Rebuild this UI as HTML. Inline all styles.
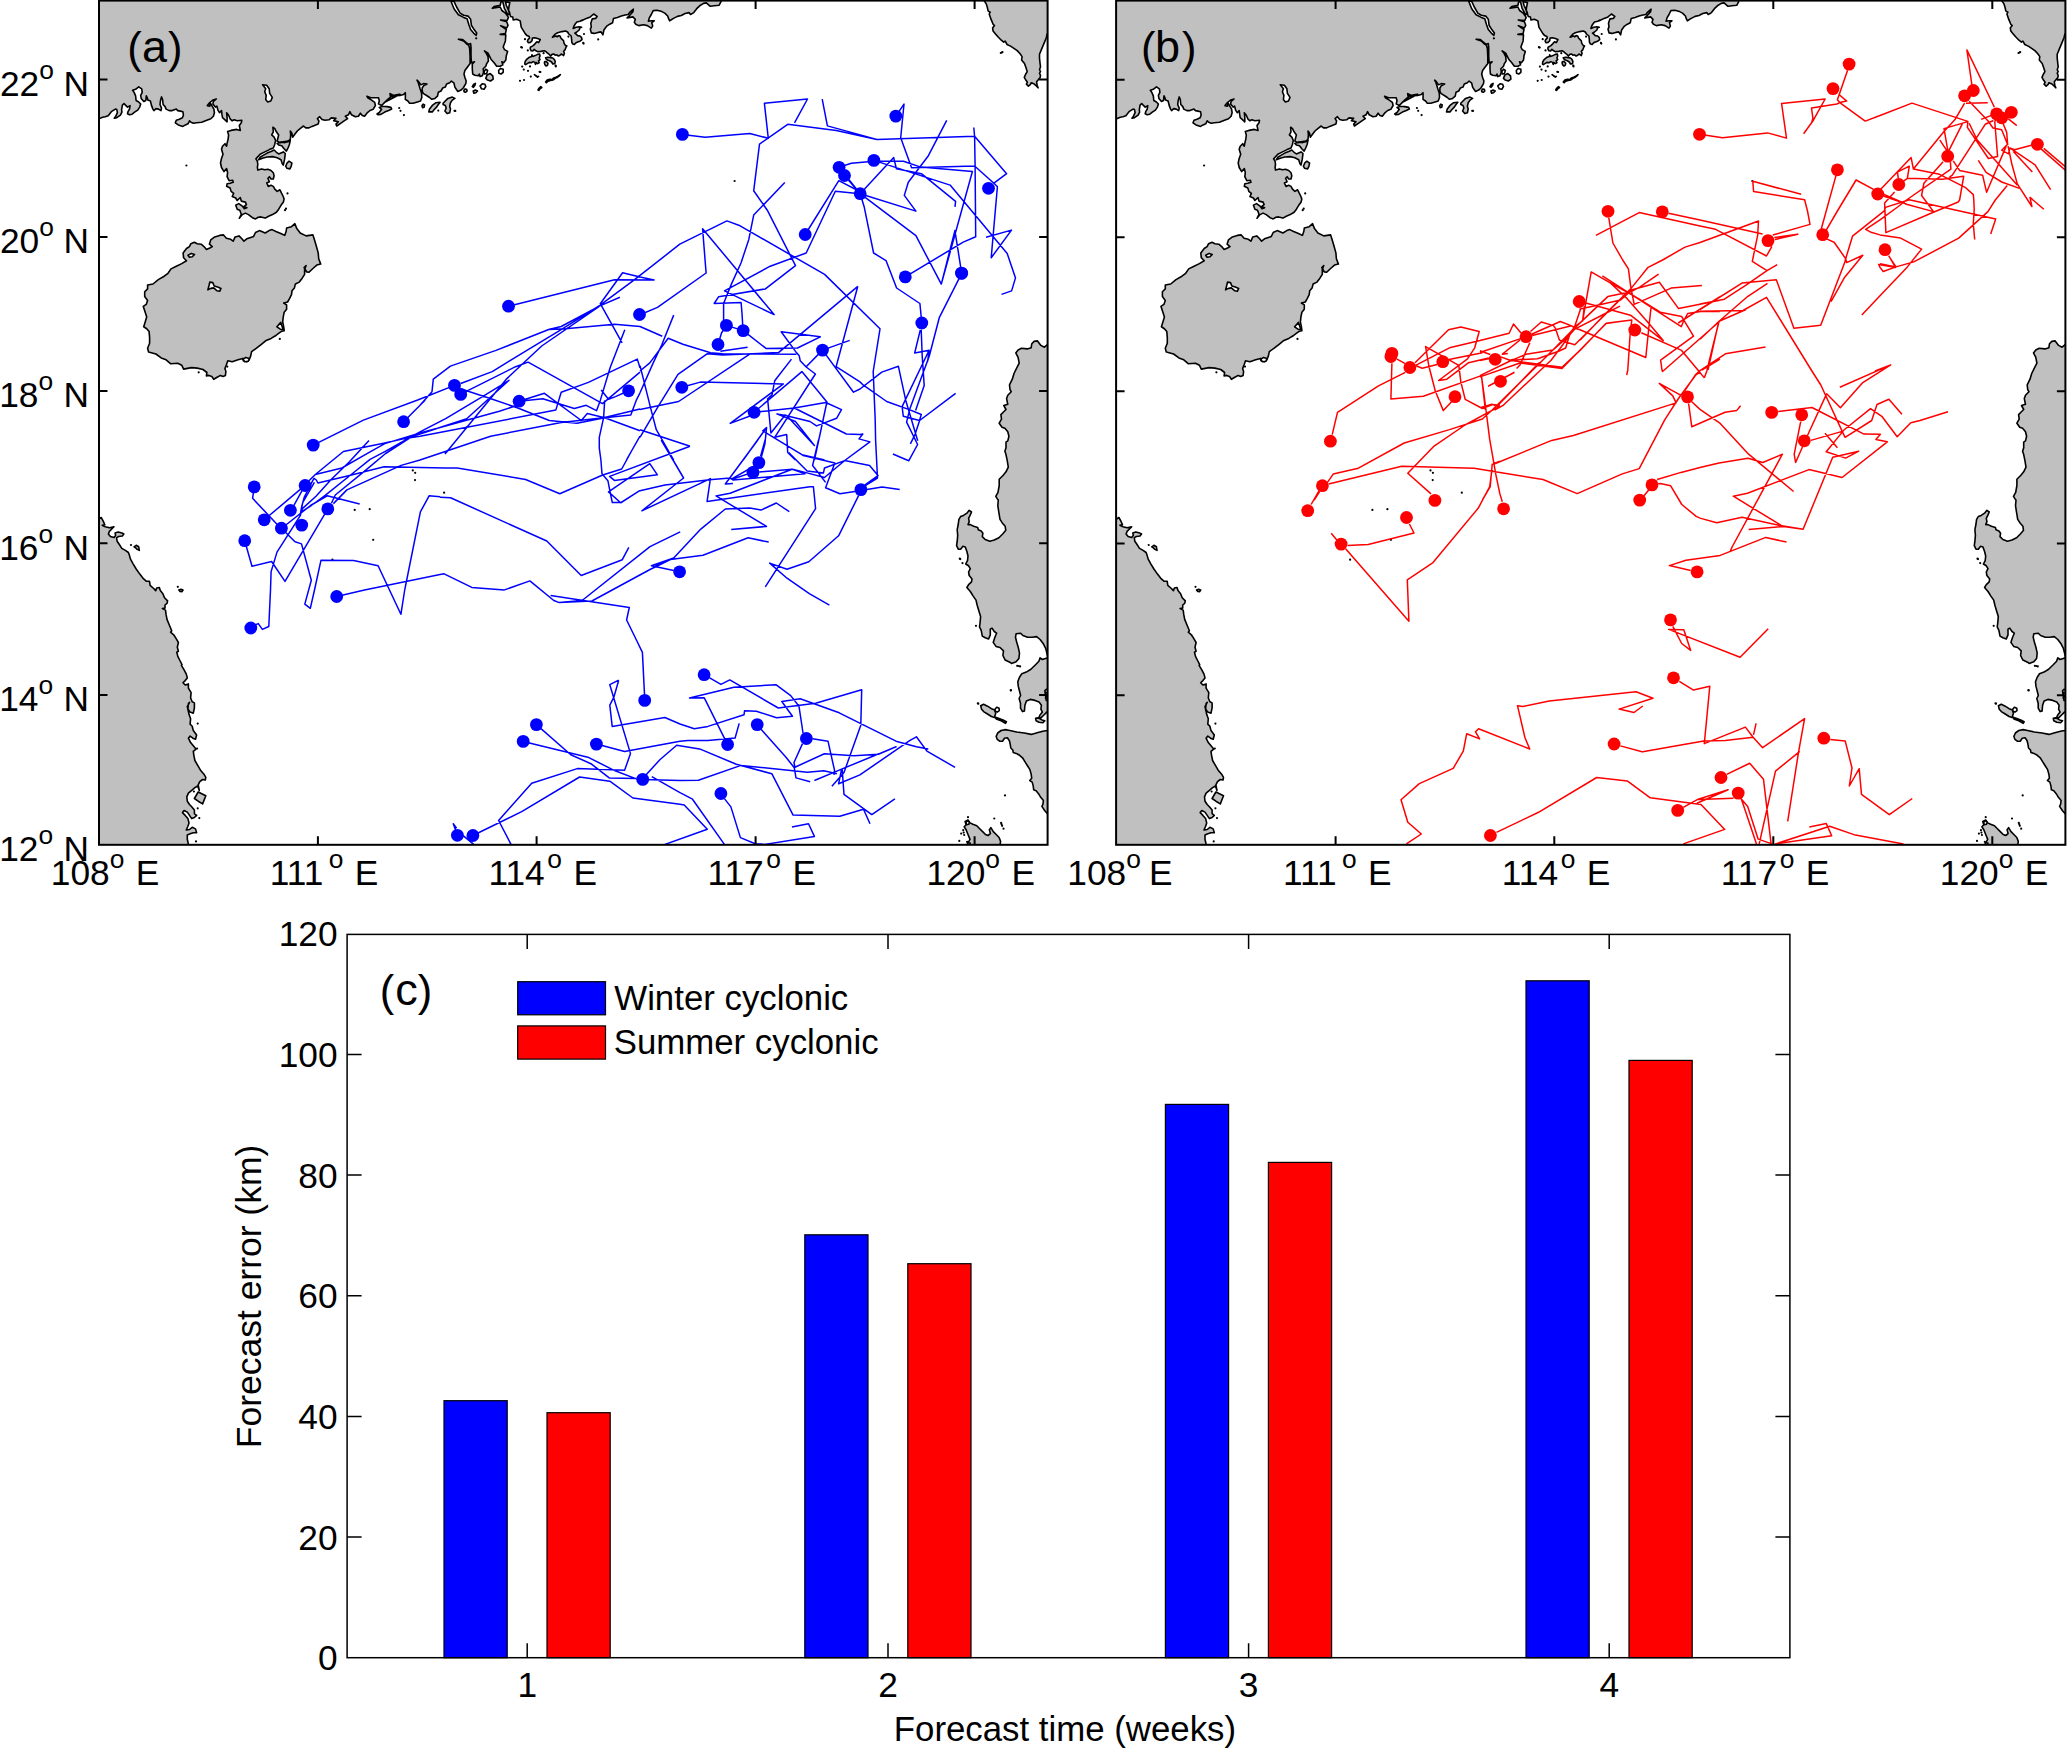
<!DOCTYPE html><html><head><meta charset="utf-8"><title>Figure</title><style>html,body{margin:0;padding:0;background:#fff}body{width:2067px;height:1749px;overflow:hidden}svg{display:block}text{font-family:"Liberation Sans",sans-serif;fill:#000}</style></head><body>
<svg xmlns="http://www.w3.org/2000/svg" width="2067" height="1749" viewBox="0 0 2067 1749">
<defs><clipPath id="ca"><rect x="99.0" y="0.6" width="948.6" height="844.2"/></clipPath><clipPath id="cb"><rect x="1116.1" y="0.6" width="949.3" height="844.2"/></clipPath></defs>
<g clip-path="url(#ca)">
<path d="M90.0 -10.0 L90.0 118.0 L98.9 118.8 L102.6 117.2 L105.2 116.7 L108.2 115.7 L111.3 111.7 L115.3 109.1 L116.8 109.6 L117.4 112.7 L115.8 116.2 L114.3 118.3 L116.8 117.7 L120.4 115.2 L121.9 112.2 L121.6 109.6 L122.4 105.1 L124.0 103.5 L125.5 105.1 L127.5 107.1 L130.1 105.6 L129.5 109.1 L128.0 111.7 L127.5 113.7 L129.5 114.7 L132.1 114.2 L134.6 112.2 L137.7 110.1 L139.7 107.1 L140.7 104.0 L138.7 102.0 L136.1 100.5 L135.6 95.9 L134.1 92.4 L132.6 90.3 L135.6 89.3 L138.7 86.8 L141.7 88.8 L142.2 92.4 L140.7 95.4 L141.2 98.4 L143.8 101.5 L145.8 100.5 L146.3 95.9 L147.3 97.9 L147.8 100.0 L150.4 101.0 L151.4 105.1 L152.9 109.1 L153.9 110.6 L156.0 108.6 L158.5 109.1 L161.0 110.6 L161.5 108.1 L160.0 104.5 L160.5 100.5 L161.5 96.9 L162.6 99.5 L163.1 104.5 L165.1 106.6 L166.1 109.1 L169.2 110.6 L172.2 110.6 L176.3 109.1 L177.8 110.6 L180.3 111.1 L182.9 111.7 L183.4 115.2 L182.4 117.7 L179.3 119.3 L176.3 120.3 L175.3 122.8 L178.3 124.9 L182.9 126.4 L185.4 124.9 L188.0 123.8 L189.5 120.8 L191.0 122.3 L193.5 123.3 L196.6 122.8 L201.7 122.3 L206.8 120.3 L210.8 118.8 L213.4 116.2 L214.4 112.7 L213.9 109.1 L211.8 105.6 L210.3 103.0 L209.8 106.1 L207.3 105.6 L209.8 102.5 L212.9 100.0 L216.4 99.0 L213.4 101.5 L212.9 104.0 L215.4 107.1 L216.9 106.1 L217.9 110.1 L219.5 112.7 L221.5 110.6 L222.0 114.7 L222.5 117.7 L225.0 119.8 L227.1 121.8 L227.1 117.7 L226.6 112.7 L228.6 115.2 L230.1 118.8 L232.2 120.8 L234.2 119.8 L237.2 120.8 L241.8 120.3 L241.3 122.8 L239.3 125.4 L240.3 130.4 L236.7 129.4 L231.1 130.4 L227.6 131.5 L228.6 135.0 L228.1 139.1 L227.1 143.1 L226.6 146.2 L225.0 143.7 L222.5 146.2 L221.5 149.2 L223.0 154.3 L221.5 158.4 L220.5 163.0 L221.5 167.5 L224.0 171.6 L226.6 168.5 L227.6 172.6 L227.1 176.7 L229.1 180.7 L232.7 180.2 L233.2 182.3 L230.1 183.3 L227.1 183.8 L226.6 186.3 L230.1 187.9 L231.1 191.4 L233.7 193.4 L232.2 196.5 L235.7 198.0 L237.2 200.5 L240.3 197.5 L241.3 201.1 L245.4 202.1 L246.4 204.6 L243.8 206.6 L246.9 207.7 L244.3 208.7 L242.3 206.1 L238.8 203.6 L235.7 205.1 L237.2 209.2 L239.8 210.2 L241.3 214.3 L239.3 218.3 L242.3 214.6 L245.4 213.1 L248.5 214.6 L252.4 217.7 L255.5 218.9 L258.2 217.3 L260.9 216.9 L265.2 218.1 L268.6 216.2 L272.5 214.6 L276.4 212.3 L278.7 209.2 L281.0 205.3 L283.3 202.2 L284.1 199.1 L283.0 196.0 L281.4 192.9 L279.9 189.8 L277.2 191.4 L274.8 189.1 L273.3 186.4 L271.0 185.2 L268.3 186.4 L266.7 182.9 L269.4 181.7 L267.9 178.2 L269.4 176.7 L271.0 179.0 L273.3 179.0 L274.1 175.9 L273.3 172.8 L271.0 170.5 L267.9 169.3 L264.8 169.7 L261.7 168.9 L257.8 170.1 L257.4 167.4 L257.8 164.3 L257.4 161.2 L255.9 158.9 L260.1 154.2 L264.8 151.9 L269.4 149.6 L273.3 148.0 L274.8 144.2 L275.6 140.3 L274.1 137.2 L271.7 134.9 L273.3 131.8 L272.9 127.2 L274.8 128.7 L276.4 131.8 L278.7 134.9 L277.9 138.0 L277.2 141.1 L280.2 142.6 L283.3 141.9 L288.0 141.1 L290.3 139.5 L290.7 134.9 L290.3 131.0 L291.9 133.3 L292.6 137.2 L295.0 134.1 L297.3 131.0 L300.4 128.3 L303.5 126.0 L305.8 127.9 L308.9 127.9 L312.0 126.4 L315.1 125.2 L318.2 124.1 L318.9 121.0 L317.4 118.6 L319.7 116.7 L322.0 119.4 L325.1 120.2 L329.0 119.8 L331.3 117.9 L336.0 118.3 L333.7 120.6 L338.3 121.7 L336.0 124.1 L336.7 126.0 L340.6 123.3 L344.5 120.6 L347.6 118.6 L345.3 116.3 L348.4 114.8 L349.9 111.7 L351.5 114.8 L355.3 116.7 L358.4 116.3 L360.4 113.2 L362.3 115.5 L364.6 116.3 L366.9 113.2 L370.0 110.5 L373.1 109.3 L375.4 105.5 L374.7 102.4 L371.6 100.1 L367.7 97.7 L366.9 96.2 L370.8 97.7 L374.7 97.7 L378.5 97.7 L379.3 100.8 L378.5 103.9 L381.6 105.5 L384.7 102.4 L387.8 99.3 L390.9 97.0 L390.2 93.9 L394.0 95.4 L397.9 94.6 L400.0 94.3 L384.7 102.4 L387.8 99.3 L390.5 97.1 L390.0 93.6 L391.8 94.5 L392.2 96.7 L395.7 95.8 L400.0 95.4 L403.5 94.5 L405.3 92.7 L405.4 96.7 L405.3 99.3 L407.9 101.0 L409.6 103.2 L413.1 103.2 L417.4 101.9 L420.5 101.0 L421.8 97.5 L421.6 93.2 L420.1 88.8 L418.3 82.7 L417.0 80.1 L418.8 81.9 L420.9 84.9 L423.5 83.6 L427.0 84.0 L423.5 85.8 L422.2 88.0 L422.2 91.4 L423.5 93.6 L427.0 95.8 L429.6 97.5 L431.8 99.3 L434.9 98.4 L437.5 96.2 L438.3 92.3 L441.0 91.0 L442.7 88.0 L445.3 87.1 L446.6 84.0 L449.7 82.7 L451.4 81.0 L454.0 83.2 L454.9 87.1 L456.6 89.7 L457.9 91.4 L461.0 90.1 L463.2 88.0 L465.8 83.6 L466.2 81.0 L464.9 77.5 L464.0 74.0 L464.9 70.5 L467.5 67.1 L470.1 63.6 L470.1 56.6 L469.7 48.8 L468.8 45.3 L466.2 43.5 L463.6 40.9 L458.4 39.2 L462.7 39.6 L466.2 42.7 L468.8 44.4 L470.6 43.5 L471.0 47.0 L471.0 55.7 L471.4 62.7 L474.5 61.8 L472.3 64.0 L472.3 68.8 L472.7 74.0 L474.9 75.3 L478.4 75.8 L479.3 74.0 L480.1 76.6 L482.3 75.8 L483.6 72.3 L483.2 68.8 L485.8 66.2 L486.7 63.6 L488.4 61.0 L488.0 56.6 L486.2 53.1 L484.5 50.9 L488.0 53.1 L489.7 56.6 L491.0 59.2 L494.1 62.7 L496.7 66.2 L500.2 66.2 L502.8 64.9 L501.9 61.8 L503.7 62.7 L505.8 60.1 L506.3 55.7 L507.6 51.4 L504.5 49.6 L503.2 47.0 L505.4 40.9 L505.8 34.8 L500.2 34.4 L505.4 33.5 L506.3 29.6 L500.6 25.7 L506.7 27.9 L508.0 25.3 L506.7 21.8 L500.6 20.0 L507.1 20.5 L508.5 17.4 L505.4 13.1 L501.9 10.5 L500.2 7.0 L492.3 8.3 L494.1 6.5 L500.2 5.2 L501.0 1.7 L502.8 1.7 L504.5 8.7 L508.0 14.8 L509.8 13.1 L506.3 5.2 L505.4 1.7 L509.8 2.6 L508.9 7.0 L508.5 10.5 L510.6 16.5 L512.8 17.0 L513.2 20.0 L516.7 19.2 L520.2 20.9 L521.2 27.2 L523.2 30.4 L525.2 33.6 L527.0 35.6 L529.2 36.6 L529.6 38.0 L528.0 39.6 L527.4 41.2 L528.4 42.8 L530.4 42.4 L532.0 40.8 L532.4 38.0 L534.8 37.8 L537.6 38.6 L540.2 39.6 L539.2 41.6 L538.6 42.6 L536.8 41.8 L535.2 43.6 L533.2 45.6 L530.4 47.2 L530.2 48.8 L531.2 50.8 L532.8 51.0 L534.2 49.4 L536.0 50.8 L537.6 51.6 L540.8 51.4 L544.4 50.8 L546.0 51.6 L547.6 53.2 L549.2 54.4 L550.8 56.0 L552.0 54.4 L554.0 54.0 L555.2 55.2 L556.8 54.8 L558.4 56.0 L560.0 55.2 L561.6 54.0 L563.6 55.6 L564.4 53.2 L563.6 51.2 L565.2 49.6 L566.0 47.2 L566.8 46.0 L565.2 45.2 L564.0 43.2 L563.6 40.8 L562.4 39.6 L560.8 38.0 L560.0 36.0 L558.4 35.6 L557.2 36.8 L556.0 36.0 L554.4 36.4 L552.4 37.2 L554.8 34.4 L557.6 32.8 L562.0 31.6 L565.6 31.0 L567.6 32.0 L568.8 34.0 L571.2 36.0 L571.6 39.2 L571.8 42.4 L572.8 44.0 L574.4 44.4 L576.0 42.8 L577.6 42.0 L580.0 41.2 L582.0 39.6 L581.6 37.6 L580.0 36.0 L577.6 35.6 L576.0 34.0 L574.8 33.2 L576.8 32.0 L579.2 30.0 L580.0 27.6 L581.6 27.2 L579.2 26.8 L576.0 27.2 L573.2 28.4 L574.0 26.0 L575.2 24.0 L576.8 22.0 L580.0 21.2 L582.4 20.0 L581.6 20.8 L586.4 18.4 L590.3 16.9 L593.7 14.0 L597.1 16.4 L595.6 18.4 L592.2 18.9 L590.8 23.2 L591.3 27.1 L590.3 29.0 L591.3 32.9 L594.2 33.4 L598.1 32.4 L601.0 31.9 L602.9 34.8 L603.9 30.0 L606.8 26.1 L609.7 24.2 L612.6 22.7 L613.5 18.4 L617.4 17.4 L621.3 16.0 L625.1 15.0 L628.1 14.5 L630.0 12.1 L633.4 9.2 L632.9 11.6 L629.5 15.5 L627.1 17.9 L630.0 17.4 L632.9 16.9 L635.3 19.4 L634.3 22.3 L635.8 24.2 L638.7 25.6 L643.5 24.7 L647.4 25.6 L651.3 28.1 L652.7 26.1 L651.8 22.7 L654.2 20.8 L651.3 20.8 L648.4 21.3 L649.3 17.9 L651.3 14.5 L653.2 10.6 L657.1 10.2 L661.9 11.6 L664.8 13.1 L667.7 16.0 L668.7 18.9 L669.7 20.8 L673.5 18.4 L677.4 16.4 L681.3 15.5 L685.1 13.5 L689.0 12.6 L690.5 14.5 L693.8 12.6 L696.7 8.7 L699.7 5.8 L703.5 3.4 L706.4 2.9 L710.3 6.3 L714.2 5.8 L719.0 5.3 L720.9 1.9 L722.0 -10.0Z M983.4 -4.8 L984.3 1.0 L986.3 3.9 L987.3 7.3 L988.2 11.1 L990.2 12.1 L989.2 14.0 L991.1 19.4 L993.1 24.2 L994.5 25.6 L992.6 28.1 L993.1 31.0 L995.5 33.9 L998.4 37.3 L1001.3 40.2 L1003.7 42.1 L1005.2 41.1 L1007.1 44.5 L1011.0 46.4 L1013.9 48.4 L1017.2 50.6 L1020.1 53.7 L1022.1 56.6 L1021.6 60.0 L1024.5 63.4 L1026.0 67.7 L1027.2 71.6 L1025.5 74.5 L1024.3 77.4 L1026.0 80.3 L1027.4 82.3 L1026.4 84.2 L1028.4 86.1 L1030.3 84.7 L1031.3 82.7 L1033.7 83.7 L1036.6 86.1 L1038.1 87.8 L1037.1 85.2 L1036.6 81.8 L1038.5 79.4 L1040.0 77.9 L1040.5 75.5 L1039.5 73.1 L1040.5 71.6 L1039.5 69.7 L1040.5 66.8 L1040.0 62.9 L1039.5 58.1 L1039.5 54.2 L1041.9 48.4 L1044.3 42.6 L1046.3 37.7 L1047.2 33.9 L1048.2 33.4 L1056.4 32.9 L1056.4 -4.8Z M1067.2 343.7 L1047.8 344.3 L1044.4 347.2 L1040.9 345.4 L1037.5 340.9 L1034.1 341.4 L1031.8 343.7 L1031.2 347.7 L1027.2 348.9 L1021.5 348.3 L1018.1 350.0 L1015.8 352.9 L1018.1 357.4 L1019.2 363.2 L1016.9 367.7 L1014.0 373.5 L1012.3 379.2 L1009.5 384.9 L1010.0 389.5 L1011.2 391.7 L1007.8 395.2 L1006.6 398.6 L1007.8 404.3 L1003.8 405.5 L1006.0 409.5 L1003.2 412.3 L1000.9 414.6 L1001.5 419.2 L999.2 423.2 L1002.0 427.2 L1004.9 428.3 L1007.8 431.8 L1008.9 436.3 L1007.8 440.9 L1006.0 442.1 L1006.0 447.8 L1004.9 451.2 L1006.0 454.6 L1007.2 460.4 L1008.3 467.2 L1006.0 471.8 L1003.2 475.2 L999.2 479.2 L999.2 485.5 L998.0 492.4 L995.8 496.4 L997.5 499.2 L998.3 500.0 L997.8 505.7 L998.9 512.6 L1000.0 519.4 L1002.3 522.9 L1005.2 526.3 L1005.8 530.3 L1002.9 533.7 L998.9 537.7 L994.3 540.0 L989.8 541.2 L985.2 539.5 L982.3 536.6 L982.9 533.2 L981.2 530.9 L978.3 529.7 L977.7 527.4 L973.7 526.3 L970.3 524.6 L968.0 524.6 L969.2 521.7 L968.6 518.3 L970.3 514.9 L971.5 512.0 L969.2 510.3 L966.9 513.2 L963.5 515.4 L960.6 516.6 L958.9 519.4 L958.3 524.0 L957.2 529.7 L957.7 535.4 L957.2 541.2 L956.6 545.7 L958.3 549.2 L960.6 549.2 L962.9 546.3 L965.2 546.9 L966.9 551.5 L968.0 556.0 L967.5 560.6 L965.7 564.0 L968.6 565.8 L970.3 568.6 L968.6 572.0 L969.2 575.5 L972.0 578.9 L971.5 581.8 L968.6 584.6 L966.9 587.5 L970.3 591.5 L973.2 596.1 L976.0 600.1 L977.2 605.2 L978.9 610.9 L980.6 616.6 L980.0 623.5 L979.5 626.9 L981.2 630.4 L982.3 636.1 L985.2 637.8 L988.6 638.9 L990.3 634.9 L990.3 629.2 L992.0 628.1 L994.3 631.5 L996.6 633.2 L994.9 637.2 L993.2 642.4 L996.0 646.4 L1000.0 647.5 L1003.5 650.9 L1002.9 655.5 L1005.2 660.1 L1010.3 662.4 L1011.5 663.5 L1016.1 661.8 L1018.9 658.4 L1019.5 653.2 L1018.3 647.5 L1016.6 641.8 L1015.5 637.2 L1016.1 633.8 L1020.6 633.2 L1022.9 635.5 L1027.5 637.2 L1032.1 637.2 L1036.6 636.6 L1040.1 639.5 L1043.5 644.1 L1045.8 648.7 L1046.9 653.2 L1047.8 656.7 L1068.7 656.7Z M1068.7 657.8 L1047.8 657.8 L1042.4 659.5 L1040.1 657.8 L1038.9 661.2 L1035.5 664.7 L1030.9 669.2 L1026.3 672.1 L1021.8 673.8 L1019.5 677.2 L1017.8 681.8 L1018.3 686.4 L1019.5 691.0 L1020.6 695.5 L1019.1 698.5 L1020.5 703.3 L1020.5 708.2 L1022.5 711.6 L1024.4 711.1 L1024.9 705.3 L1026.4 700.9 L1030.2 699.4 L1035.1 700.4 L1039.0 701.9 L1041.4 705.3 L1040.9 709.2 L1042.4 712.1 L1040.0 715.0 L1039.0 717.4 L1040.9 717.9 L1043.9 715.0 L1046.8 712.1 L1048.0 711.1 L1065.2 711.1Z M1065.2 730.5 L1048.0 730.5 L1043.9 731.0 L1038.0 732.5 L1031.2 734.4 L1024.4 733.0 L1016.6 732.0 L1009.8 730.5 L1005.5 729.6 L1001.1 730.5 L997.7 733.0 L996.2 736.4 L997.2 739.3 L999.6 741.2 L1002.5 741.2 L1004.5 738.3 L1007.4 737.8 L1009.4 740.8 L1010.3 744.6 L1010.8 748.0 L1012.8 750.0 L1013.2 752.4 L1016.2 753.4 L1019.6 755.3 L1022.5 757.8 L1024.9 761.6 L1027.3 765.5 L1029.8 769.4 L1031.2 774.3 L1031.7 778.2 L1029.8 780.6 L1032.2 782.1 L1033.2 785.9 L1033.7 789.8 L1036.1 790.8 L1038.5 793.7 L1040.9 797.6 L1043.4 800.5 L1042.9 804.4 L1041.9 806.4 L1044.8 810.7 L1048.0 814.1 L1065.2 816.1Z M967.1 855.0 L967.1 844.3 L970.0 839.4 L968.0 834.5 L966.1 829.7 L964.2 826.8 L966.1 824.8 L965.1 821.4 L968.0 820.0 L970.0 822.9 L972.9 824.3 L976.8 825.8 L979.7 828.7 L982.6 831.6 L985.5 834.5 L988.0 835.5 L990.4 833.6 L989.4 829.7 L990.9 827.7 L993.3 831.6 L996.2 834.5 L999.1 837.5 L1000.6 841.4 L1000.1 844.3 L1000.1 855.0Z M84.7 519.0 L98.9 519.0 L101.2 517.5 L103.2 521.1 L104.8 524.7 L102.2 525.2 L105.3 526.8 L109.4 527.8 L114.0 526.8 L111.5 529.3 L109.4 531.4 L108.4 534.0 L110.4 536.5 L114.0 537.6 L115.6 535.5 L115.1 532.9 L118.2 531.9 L121.8 532.9 L123.8 534.0 L122.3 536.0 L118.7 536.5 L116.6 537.6 L117.1 541.2 L119.2 544.3 L121.8 548.4 L125.4 550.4 L128.4 552.5 L129.5 555.6 L130.5 559.2 L133.1 563.8 L136.2 569.0 L139.8 574.1 L143.4 578.7 L146.5 581.3 L149.5 581.3 L150.1 585.4 L153.7 588.5 L155.7 590.6 L156.7 588.0 L159.3 587.5 L160.3 590.6 L162.9 593.7 L164.5 597.8 L167.6 600.9 L167.0 603.4 L165.0 605.0 L165.0 608.1 L162.4 608.6 L165.5 610.1 L166.0 614.2 L167.0 619.4 L169.1 624.5 L171.7 630.7 L170.6 632.2 L173.7 634.8 L176.3 638.9 L178.4 642.5 L177.3 647.2 L178.4 651.3 L176.8 652.3 L177.8 656.4 L179.9 660.5 L182.0 664.7 L181.4 665.4 L184.1 669.8 L186.3 674.1 L187.3 677.9 L185.2 680.6 L183.0 682.8 L185.2 685.0 L188.4 683.9 L188.4 688.2 L191.1 692.6 L190.6 698.0 L192.2 701.8 L194.4 702.9 L194.4 707.8 L193.3 713.2 L190.1 712.1 L187.9 708.9 L188.4 703.5 L189.5 702.4 L187.3 706.7 L189.0 714.3 L190.6 718.7 L190.1 724.1 L192.2 726.3 L193.3 730.6 L196.6 735.0 L195.5 739.3 L192.8 738.2 L190.1 736.0 L188.4 738.2 L190.6 742.6 L193.3 745.8 L196.0 749.1 L193.3 751.3 L193.9 755.6 L194.9 760.5 L197.7 765.4 L200.9 770.8 L204.2 774.6 L205.8 777.3 L205.3 780.0 L202.6 779.5 L199.8 781.7 L198.2 784.9 L199.3 790.4 L197.7 786.0 L194.9 787.6 L191.7 790.4 L188.4 793.1 L186.8 796.9 L187.3 801.2 L189.5 804.5 L191.7 806.7 L194.4 809.9 L194.4 813.7 L196.6 815.4 L194.4 817.5 L191.7 818.6 L189.5 815.4 L187.3 812.1 L184.1 810.5 L182.5 812.6 L185.2 815.4 L187.9 818.6 L189.0 823.0 L187.9 826.2 L186.3 830.0 L189.5 829.5 L192.2 827.3 L195.5 828.9 L196.6 832.7 L193.3 832.7 L190.1 833.8 L187.3 834.9 L187.3 839.3 L188.4 844.1 L188.4 855.5 L84.1 855.5Z M294.9 223.7 L296.8 228.6 L300.2 233.0 L306.1 235.9 L312.9 234.9 L314.3 239.3 L316.3 246.1 L318.2 252.9 L318.7 258.7 L320.7 264.1 L316.8 265.1 L312.9 268.5 L309.0 272.3 L306.6 271.9 L304.1 267.5 L306.1 265.5 L304.6 269.4 L304.6 274.3 L302.2 278.2 L299.3 282.1 L295.4 284.0 L294.4 287.9 L292.0 290.8 L291.5 294.7 L289.5 298.6 L287.6 302.0 L283.7 303.0 L286.6 304.9 L286.6 309.3 L284.2 312.2 L283.2 317.1 L282.7 321.9 L283.7 326.8 L284.2 330.7 L281.8 331.2 L278.9 333.1 L275.9 335.5 L271.1 338.4 L266.2 340.4 L261.4 344.3 L256.5 348.2 L251.6 351.6 L250.7 355.9 L249.2 359.8 L246.8 361.8 L243.4 360.8 L242.9 358.4 L238.0 359.8 L232.2 361.8 L227.8 360.8 L226.4 364.7 L224.9 368.6 L225.9 371.5 L225.4 375.4 L223.0 376.4 L220.5 375.4 L217.1 377.3 L213.7 379.3 L211.8 376.4 L208.9 375.4 L206.4 375.9 L206.9 372.5 L203.0 369.5 L197.2 368.1 L191.4 367.6 L183.6 369.1 L181.7 365.2 L177.8 363.2 L170.5 363.7 L166.1 359.8 L161.2 357.9 L155.9 354.0 L148.6 352.1 L147.6 348.2 L149.6 343.3 L149.6 337.5 L149.1 331.6 L146.7 328.7 L143.7 326.8 L145.2 321.9 L146.7 317.1 L145.2 312.2 L143.3 306.4 L146.2 304.4 L147.6 300.5 L144.7 296.6 L144.7 291.8 L147.6 288.9 L147.6 285.0 L153.0 284.0 L158.3 279.6 L164.2 276.2 L168.0 273.3 L171.0 268.9 L175.8 266.5 L181.7 263.6 L186.5 260.7 L183.6 257.8 L183.1 252.9 L186.5 248.5 L189.4 246.6 L190.9 243.7 L194.3 242.2 L197.2 243.7 L201.1 244.2 L204.0 246.6 L206.4 249.5 L209.8 248.0 L212.3 246.6 L209.4 244.2 L210.8 239.8 L214.7 236.9 L219.6 235.4 L223.5 234.9 L226.4 238.3 L230.7 239.3 L233.2 241.2 L235.1 236.9 L239.0 235.9 L241.9 238.8 L243.9 241.2 L246.8 238.8 L250.7 237.4 L253.6 236.4 L255.5 232.5 L259.4 230.6 L265.2 233.0 L269.1 230.6 L272.1 229.6 L275.9 231.5 L280.8 233.5 L284.7 235.4 L286.1 231.5 L286.6 228.1 L291.5 226.7Z M377.0 114.0 L379.3 112.4 L381.6 109.3 L379.3 107.4 L382.4 106.3 L387.1 106.6 L390.9 107.4 L391.7 109.0 L388.6 110.5 L384.7 112.1 L380.9 114.4 L377.8 114.8Z M258.6 159.7 L263.2 158.1 L267.1 157.0 L272.5 156.6 L277.2 157.7 L281.0 159.7 L282.2 163.5 L283.3 165.1 L284.5 159.7 L285.3 153.5 L283.3 151.9 L278.7 153.9 L276.4 152.3 L274.1 150.0 L271.0 151.5 L267.1 153.1 L263.2 155.4 L260.1 157.3Z M277.2 143.4 L281.0 141.9 L284.9 142.6 L288.8 141.5 L290.3 140.3 L289.5 144.2 L288.0 148.0 L286.4 151.1 L284.1 148.8 L281.8 145.7 L278.7 145.0Z M285.7 166.2 L287.2 162.8 L289.1 161.2 L291.9 163.1 L291.1 166.6 L289.9 168.9 L286.8 168.2Z M428.8 111.9 L429.6 108.9 L432.3 105.4 L435.7 102.8 L440.1 102.3 L438.3 104.5 L436.6 107.1 L434.0 109.7 L432.3 111.9Z M443.1 103.2 L445.3 101.0 L447.9 98.4 L452.3 97.1 L454.9 98.4 L452.3 100.1 L450.5 102.8 L449.7 106.2 L450.5 108.9 L449.7 112.8 L447.1 113.6 L444.9 111.0 L446.2 108.0 L445.3 105.4 L443.1 104.5Z M422.0 105.8 L423.1 104.1 L424.6 104.9 L424.0 107.3 L422.5 107.6Z M463.8 90.6 L464.9 89.0 L466.6 89.3 L467.1 91.0 L465.8 92.3 L464.3 91.9Z M472.3 86.6 L473.6 84.5 L475.4 83.4 L474.9 85.3 L473.4 87.3Z M473.2 91.0 L475.4 90.1 L477.5 91.0 L475.8 92.7 L473.9 93.2Z M485.8 78.4 L487.1 74.9 L490.2 73.6 L492.8 75.8 L493.2 79.2 L490.6 81.0 L487.6 80.1Z M524.8 64.0 L525.0 62.0 L526.4 59.6 L528.8 57.6 L531.6 56.4 L532.0 54.8 L532.8 56.4 L535.2 55.6 L537.6 54.4 L539.6 54.0 L540.0 56.0 L539.2 58.0 L540.0 59.6 L538.4 60.8 L539.2 62.8 L537.6 63.6 L536.0 62.4 L535.6 64.4 L534.8 62.4 L533.2 61.6 L531.2 62.8 L529.2 62.4 L527.2 63.6 L525.6 64.6Z M545.6 57.8 L548.0 57.2 L550.4 57.6 L552.8 58.0 L554.4 59.6 L555.2 61.6 L554.8 63.6 L552.8 64.0 L551.6 62.0 L549.6 60.8 L547.6 60.0 L546.0 58.8Z M544.8 61.6 L546.4 61.6 L548.0 63.2 L547.6 65.2 L546.0 66.0 L544.8 64.4 L544.4 62.8Z M545.6 82.0 L547.2 80.0 L549.6 79.2 L552.0 79.6 L553.6 78.0 L556.0 77.2 L558.4 76.0 L560.4 74.6 L559.6 75.6 L557.6 77.2 L555.2 78.4 L553.2 80.0 L550.4 80.4 L548.0 81.2 L546.4 82.8Z M538.0 90.0 L539.2 88.0 L540.8 86.6 L541.8 87.6 L540.0 88.8 L538.8 90.4Z M534.4 74.6 L536.0 76.0 L537.6 77.2 L538.6 76.4 L537.6 76.8 L536.0 75.6Z M980.7 705.8 L983.6 704.3 L987.5 706.2 L991.4 708.7 L994.8 710.1 L995.7 713.5 L994.3 717.4 L991.4 716.5 L987.5 714.0 L983.6 711.6 L981.6 709.2Z M994.8 716.9 L999.1 718.4 L1003.0 719.9 L1006.4 721.8 L1005.5 723.3 L1001.1 720.8 L996.2 718.9Z M1035.6 718.4 L1038.0 717.9 L1041.9 719.9 L1044.8 720.8 L1042.9 722.8 L1039.0 722.3 L1036.1 720.8Z M194.4 798.5 L198.2 792.0 L205.8 795.8 L202.6 803.9 L198.2 801.2Z M134.1 546.8 L136.2 545.3 L138.7 546.8 L139.3 550.4 L137.2 549.4 L135.7 547.9Z M178.9 590.0 L180.9 589.3 L183.0 590.0 L182.0 591.6 L179.9 591.4Z" fill="#c0c0c0" stroke="#000" stroke-width="1.6" stroke-linejoin="round"/>
<path d="M262.6 84.7 L266.7 85.2 L269.2 88.8 L269.7 93.4 L272.3 97.4 L270.8 101.0 L267.7 102.0 L265.7 99.5 L266.2 95.4 L264.7 91.8 L265.7 88.8Z M451.0 1.3 L454.0 8.7 L458.4 14.8 L463.6 17.4 L467.1 18.7 L468.8 24.4 L470.6 29.6 L473.6 33.1 L476.2 35.3 L476.7 33.1 L474.1 29.6 L471.4 25.3 L470.6 19.2 L468.0 16.1 L463.6 15.2 L460.1 13.1 L456.6 7.0 L454.0 1.3Z M480.1 85.8 L482.3 83.8 L484.9 84.3 L485.8 86.6 L484.1 89.3 L481.5 88.8Z M498.6 70.5 L500.6 68.4 L503.2 69.2 L503.2 72.3 L501.0 74.0 L498.9 73.2Z M484.1 71.4 L485.8 69.2 L487.6 70.5 L486.7 73.6 L484.5 74.0Z M207.9 289.8 L208.9 286.0 L209.8 282.1 L212.8 282.6 L214.2 286.0 L217.6 286.9 L221.0 288.4 L219.6 291.3 L217.1 290.8 L213.7 287.9 L210.8 288.4Z M276.9 326.8 L280.8 322.4 L283.2 329.7 L280.3 329.2Z M242.9 359.3 L245.8 357.4 L249.2 358.4 L248.2 361.3 L244.8 361.8Z M188.0 255.3 L191.4 253.4 L194.5 254.4 L192.3 256.8 L189.4 257.3Z M995.0 709.2 L996.7 707.2 L999.1 708.2 L999.3 710.6 L997.2 712.1 L995.3 711.3Z M965.9 822.4 L967.6 820.7 L969.4 822.1 L968.8 824.3 L966.6 824.6Z M1044.8 690.7 L1046.3 689.2 L1048.0 690.2 L1048.0 692.6 L1045.8 692.6 L1045.6 698.5 L1047.0 696.5 L1048.0 697.0 L1048.0 699.9 L1046.3 700.4Z" fill="#fff" stroke="#000" stroke-width="1.6" stroke-linejoin="round"/>
<circle cx="399.2" cy="108.0" r="1.1" fill="#000"/>
<circle cx="400.5" cy="110.8" r="1.1" fill="#000"/>
<circle cx="403.9" cy="115.1" r="1.1" fill="#000"/>
<circle cx="438.3" cy="110.6" r="1.1" fill="#000"/>
<circle cx="454.5" cy="110.8" r="1.1" fill="#000"/>
<circle cx="455.3" cy="110.9" r="1.1" fill="#000"/>
<circle cx="476.2" cy="38.3" r="1.1" fill="#000"/>
<circle cx="521.2" cy="47.2" r="1.1" fill="#000"/>
<circle cx="522.0" cy="47.6" r="1.1" fill="#000"/>
<circle cx="525.0" cy="39.2" r="1.1" fill="#000"/>
<circle cx="527.8" cy="50.4" r="1.1" fill="#000"/>
<circle cx="522.2" cy="66.6" r="1.1" fill="#000"/>
<circle cx="523.8" cy="69.6" r="1.1" fill="#000"/>
<circle cx="528.0" cy="70.8" r="1.1" fill="#000"/>
<circle cx="530.0" cy="66.4" r="1.1" fill="#000"/>
<circle cx="539.6" cy="71.8" r="1.1" fill="#000"/>
<circle cx="540.4" cy="72.0" r="1.1" fill="#000"/>
<circle cx="530.8" cy="76.6" r="1.1" fill="#000"/>
<circle cx="524.0" cy="80.0" r="1.1" fill="#000"/>
<circle cx="520.0" cy="80.8" r="1.1" fill="#000"/>
<circle cx="543.6" cy="53.2" r="1.1" fill="#000"/>
<circle cx="555.8" cy="66.4" r="1.1" fill="#000"/>
<circle cx="555.6" cy="65.6" r="1.1" fill="#000"/>
<circle cx="584.0" cy="34.0" r="1.1" fill="#000"/>
<circle cx="583.6" cy="43.6" r="1.1" fill="#000"/>
<circle cx="583.2" cy="42.8" r="1.1" fill="#000"/>
<circle cx="568.4" cy="36.6" r="1.1" fill="#000"/>
<circle cx="598.2" cy="39.4" r="1.1" fill="#000"/>
<circle cx="186.4" cy="165.5" r="1.1" fill="#000"/>
<circle cx="287.5" cy="193.4" r="1.1" fill="#000"/>
<circle cx="286.0" cy="208.7" r="1.1" fill="#000"/>
<circle cx="285.0" cy="210.2" r="1.1" fill="#000"/>
<circle cx="959.8" cy="558.7" r="1.1" fill="#000"/>
<circle cx="960.3" cy="559.1" r="1.1" fill="#000"/>
<circle cx="962.5" cy="563.1" r="1.1" fill="#000"/>
<circle cx="976.0" cy="625.8" r="1.1" fill="#000"/>
<circle cx="1017.2" cy="665.8" r="1.1" fill="#000"/>
<circle cx="1018.6" cy="666.0" r="1.1" fill="#000"/>
<circle cx="1020.1" cy="666.4" r="1.1" fill="#000"/>
<circle cx="1010.9" cy="690.4" r="1.1" fill="#000"/>
<circle cx="977.8" cy="703.3" r="1.1" fill="#000"/>
<circle cx="978.3" cy="703.7" r="1.1" fill="#000"/>
<circle cx="1010.8" cy="690.2" r="1.1" fill="#000"/>
<circle cx="1005.0" cy="795.4" r="1.1" fill="#000"/>
<circle cx="968.0" cy="817.2" r="1.1" fill="#000"/>
<circle cx="994.3" cy="818.5" r="1.1" fill="#000"/>
<circle cx="1001.1" cy="822.9" r="1.1" fill="#000"/>
<circle cx="1001.6" cy="824.3" r="1.1" fill="#000"/>
<circle cx="1002.1" cy="825.8" r="1.1" fill="#000"/>
<circle cx="1003.5" cy="828.7" r="1.1" fill="#000"/>
<circle cx="961.2" cy="833.6" r="1.1" fill="#000"/>
<circle cx="963.2" cy="830.2" r="1.1" fill="#000"/>
<circle cx="963.7" cy="832.6" r="1.1" fill="#000"/>
<circle cx="964.2" cy="835.0" r="1.1" fill="#000"/>
<circle cx="959.3" cy="840.9" r="1.1" fill="#000"/>
<circle cx="967.1" cy="841.8" r="1.1" fill="#000"/>
<circle cx="968.5" cy="842.5" r="1.1" fill="#000"/>
<circle cx="970.0" cy="843.3" r="1.1" fill="#000"/>
<circle cx="131.0" cy="545.0" r="1.1" fill="#000"/>
<circle cx="177.8" cy="586.8" r="1.1" fill="#000"/>
<circle cx="197.7" cy="723.6" r="1.1" fill="#000"/>
<circle cx="197.1" cy="748.5" r="1.1" fill="#000"/>
<circle cx="193.9" cy="791.5" r="1.1" fill="#000"/>
<circle cx="197.7" cy="808.3" r="1.1" fill="#000"/>
<circle cx="199.3" cy="818.1" r="1.1" fill="#000"/>
<circle cx="196.0" cy="841.4" r="1.1" fill="#000"/>
<circle cx="198.7" cy="372.3" r="1.1" fill="#000"/>
<circle cx="279.8" cy="338.9" r="1.1" fill="#000"/>
<circle cx="227.3" cy="366.6" r="1.1" fill="#000"/>
<circle cx="1000.8" cy="53.0" r="1.1" fill="#000"/>
<circle cx="1001.8" cy="52.5" r="1.1" fill="#000"/>
<circle cx="1002.5" cy="52.0" r="1.1" fill="#000"/>
<circle cx="412.8" cy="470.4" r="1.1" fill="#000"/>
<circle cx="415.2" cy="472.8" r="1.1" fill="#000"/>
<circle cx="415.0" cy="480.1" r="1.1" fill="#000"/>
<circle cx="354.7" cy="509.9" r="1.1" fill="#000"/>
<circle cx="369.7" cy="509.2" r="1.1" fill="#000"/>
<circle cx="373.2" cy="539.8" r="1.1" fill="#000"/>
<circle cx="332.4" cy="559.7" r="1.1" fill="#000"/>
<circle cx="444.1" cy="492.7" r="1.1" fill="#000"/>
<circle cx="734.6" cy="181.0" r="1.1" fill="#000"/>
<path d="M895.8 116.1 L904.0 104.1 L900.7 137.8 L911.6 167.7 L974.6 166.0 L994.7 184.0 L997.4 186.7 L991.2 257.8 L1011.5 230.1 L986.0 237.2 M743.0 330.3 L742.0 313.2 L741.1 302.5 L714.2 303.5 L718.7 296.7 L765.4 288.9 L795.5 265.6 L767.3 210.2 L753.7 190.8 L759.5 144.1 L787.7 124.3 L836.3 130.5 L876.8 139.4 L974.6 136.2 L1006.6 173.7 L993.6 183.4 M822.2 99.2 L827.4 125.9 L876.8 139.4 M973.8 127.5 L974.6 136.2 L975.1 166.0 L975.7 236.7 L963.2 242.1 L905.3 276.9 M946.7 120.4 L928.4 155.7 L908.3 182.3 L904.3 195.4 L915.9 211.1 L860.2 193.7 M839.1 167.3 L851.3 163.3 L873.9 161.2 L903.4 161.2 L920.8 167.1 L972.4 171.5 L941.3 284.1 L954.9 230.6 L961.7 273.4 M860.2 193.7 L893.7 157.6 L896.4 168.8 L921.4 173.7 L955.6 201.4 L955.0 206.8 M873.9 160.4 L950.1 185.1 L1007.2 253.5 L1015.5 277.9 L1011.6 290.9 L1001.5 294.4 M839.1 167.3 L860.2 193.7 M844.5 175.5 L860.2 193.7 M805.2 234.5 L838.8 180.7 L857.8 190.5 M640.0 314.8 L657.5 307.4 L706.1 273.0 L702.6 228.7 L774.1 314.6 L724.5 290.9 L770.2 266.2 L806.2 253.0 L835.3 191.2 L860.0 193.7 M860.2 193.7 L864.3 207.3 L873.6 253.0 L886.0 260.6 L896.6 288.0 L919.9 303.5 L921.8 323.0 M860.2 193.7 L915.9 235.6 L941.3 284.1 M682.4 134.4 L705.1 137.3 L749.8 133.4 L768.3 138.3 L764.4 103.3 L807.5 99.0 L794.5 122.8 M726.5 325.3 L723.6 320.0 L723.6 303.5 L731.4 284.1 L741.1 262.7 L748.8 239.4 L753.7 215.1 L784.8 182.4 M460.7 383.5 L492.2 371.6 L517.8 355.8 L559.1 330.8 L599.8 305.3 L632.9 280.9 L640.0 275.4 L679.8 244.2 L726.9 220.9 L740.1 225.8 L824.6 274.4 L880.0 328.8 L873.2 371.5 L875.2 419.9 L875.6 440.0 L877.5 478.0 L865.3 485.6 M726.4 325.4 L721.5 333.0 L718.0 344.5 M720.4 351.3 L747.6 347.3 M726.4 325.4 L743.2 330.6 L766.0 348.4 L797.5 348.0 L820.3 336.8 L781.2 331.7 L796.4 352.6 L799.2 355.8 L800.2 360.7 L806.2 367.0 L815.4 374.0 L774.7 437.3 L786.7 434.6 L787.7 452.5 L795.4 460.0 M857.8 286.3 L778.5 352.6 L722.6 355.0 L707.4 353.7 L678.0 374.3 L657.9 406.9 L640.0 437.3 M640.0 371.0 L649.8 362.9 L668.2 338.2 L682.9 344.2 L710.6 352.8 L722.6 353.7 L796.4 354.2 M749.7 354.2 L678.6 401.5 L640.0 409.6 M673.7 315.1 L661.7 345.0 L653.0 363.4 L640.0 392.8 M640.0 365.6 L643.3 378.6 L650.9 409.1 L656.3 429.7 L673.7 460.0 M640.0 429.7 L689.4 446.0 L689.4 446.5 L609.6 476.4 L614.4 480.4 L657.4 474.8 L649.8 463.7 L608.5 491.9 L620.4 502.5 L612.3 502.5 L610.6 494.3 L607.9 480.7 L602.0 473.7 L600.9 460.0 M681.8 387.3 L700.3 382.1 L783.4 383.9 L730.2 423.4 L754.1 414.5 M754.1 412.3 L794.3 408.0 L825.8 402.5 L841.5 409.6 L836.6 418.3 L816.5 425.9 L810.0 421.5 L785.6 415.6 L776.9 413.9 L795.4 421.5 L814.4 445.4 L786.1 415.0 M794.3 408.0 L846.4 434.0 L860.0 434.6 L862.8 434.0 L859.0 438.9 L869.9 441.9 L845.4 460.0 M754.1 412.3 L801.9 371.6 L826.9 402.0 L820.3 433.0 L814.4 460.0 M791.5 359.1 L774.7 380.8 L772.0 394.9 L767.6 398.7 L770.9 433.0 L785.6 414.5 M743.2 460.0 L766.6 427.5 L762.8 430.8 L801.9 454.7 L824.7 460.0 M766.6 427.5 L764.9 443.8 L760.6 460.0 M822.5 350.1 L849.7 340.4 M822.5 350.1 L806.2 366.7 M822.5 350.1 L853.5 392.2 L860.0 389.0 L881.8 372.1 L898.4 366.3 L905.7 400.2 L917.7 440.8 M857.8 286.3 L836.1 366.7 L860.0 381.9 L863.4 385.2 L886.7 401.5 L909.2 409.6 L921.3 414.5 L919.5 420.5 L903.3 416.2 L902.1 406.6 L929.1 350.2 M961.7 273.3 L939.4 317.3 L929.3 356.0 L909.6 409.6 L906.6 422.2 L917.6 444.5 L908.7 460.8 L892.9 454.0 M920.3 329.9 L914.7 353.0 L929.1 350.2 L927.6 361.6 M921.2 329.9 L922.2 356.0 L924.2 385.6 L915.6 410.5 M955.6 393.3 L919.6 420.5 L915.2 434.1 L910.4 443.9 M508.5 306.2 L614.5 279.8 L654.1 280.0 L640.0 277.1 L622.6 272.7 L600.3 303.7 L622.1 342.8 M619.9 297.2 L599.3 306.1 L561.2 326.5 L548.7 329.5 L496.0 350.4 L450.4 366.1 L433.3 379.2 L432.0 391.7 L420.0 405.3 M662.3 336.3 L640.0 326.5 L614.5 324.3 L565.6 328.7 L548.7 329.5 M599.3 306.4 L541.7 346.0 L506.9 378.6 L445.0 454.1 M640.0 372.1 L602.5 403.6 L528.1 362.1 L515.6 366.7 L467.8 390.6 L460.7 394.4 M519.1 401.2 L544.4 393.3 L581.3 420.5 L587.3 413.6 L604.7 417.7 L640.0 430.8 M519.1 401.2 L542.8 398.7 L574.3 408.5 L586.2 405.3 L596.5 410.7 L600.3 400.4 L610.1 367.8 L624.8 329.8 M461.3 389.0 L489.5 398.2 L517.8 408.0 L549.3 420.5 L577.0 423.2 L604.7 417.7 L630.8 415.0 L636.2 400.4 L640.0 392.8 M420.0 431.9 L446.1 418.3 L480.8 397.6 L509.1 380.3 L466.7 418.8 L420.0 434.0 M420.0 433.0 L499.3 411.2 L519.1 404.7 M420.0 436.2 L555.8 410.1 L561.2 392.2 L588.4 382.4 L637.3 359.1 L640.0 367.8 M420.0 460.0 L490.6 436.2 L561.2 422.6 L603.6 417.7 L640.0 409.1 M604.7 400.4 L603.6 417.7 L599.3 437.3 L599.3 448.2 L600.9 460.0 M628.6 390.8 L615.5 396.6 L608.5 399.3 L601.2 390.0 M640.0 436.2 L626.4 460.0 M313.2 445.1 L363.4 420.1 L417.7 400.0 L454.5 385.4 M403.6 421.7 L425.3 400.0 M369.0 440.5 L349.2 462.0 L331.4 479.2 L316.0 496.2 L302.4 508.6 L300.1 515.9 M420.0 431.9 L412.7 436.0 L384.8 451.7 L370.1 459.4 L353.1 473.0 L325.2 495.4 L311.3 505.5 L300.5 512.5 M420.0 434.1 L412.7 436.2 L385.6 453.5 L365.5 470.3 L335.3 495.0 L331.4 503.2 M420.0 433.0 L384.8 443.6 L367.0 453.6 L341.9 468.0 L315.3 474.5 M420.0 436.2 L403.4 438.8 L384.8 443.0 L343.4 451.5 L315.3 474.5 L308.2 481.5 M445.0 468.1 L384.1 466.8 L348.5 475.7 L317.9 483.0 L316.3 480.0 L314.0 478.4 L311.7 482.7 L304.3 497.0 L301.6 507.0 L300.1 515.9 L277.0 552.1 L271.1 571.6 L270.5 590.0 L268.8 626.5 L262.4 629.4 L258.3 623.6 L254.3 625.3 M420.0 460.0 L401.1 465.4 L346.9 489.9 L333.4 503.6 M359.7 503.9 L327.2 495.8 L310.5 505.5 L286.5 524.5 L281.4 528.2 M314.4 482.3 L302.8 502.4 L300.5 514.0 M305.0 485.4 L264.2 519.8 M305.0 485.4 L294.3 504.7 L290.4 510.5 M254.2 486.9 L252.6 498.3 L276.5 523.8 L281.4 528.2 L295.0 541.8 L301.5 543.9 L311.3 580.3 L304.8 604.1 L310.3 608.3 L314.5 590.0 M244.7 540.7 L252.0 566.2 L271.6 561.5 L285.0 581.4 L327.8 508.9 M314.5 590.0 L321.0 560.2 L353.6 560.6 L378.1 565.7 L389.5 590.0 L400.9 614.3 L404.7 590.0 M440.0 496.7 L429.1 495.8 L420.4 511.9 L404.7 590.0 M336.7 596.5 L364.5 590.0 L440.0 574.4 M445.0 468.1 L457.2 467.9 L525.6 479.5 L559.8 493.7 L602.7 475.0 L621.7 469.0 L632.1 450.0 L626.4 460.0 M440.0 497.3 L450.6 497.8 L546.8 541.0 L581.2 575.5 L622.3 559.7 L628.8 547.4 M440.0 574.4 L444.1 573.8 L471.8 587.4 L504.4 589.9 L529.9 580.9 L553.8 600.5 L559.3 602.6 L582.1 600.5 L650.0 546.7 L680.2 531.8 M550.6 595.6 L629.3 607.5 L626.6 620.0 L636.4 640.0 M559.3 602.6 L591.9 601.0 L650.0 569.5 L670.4 559.5 L703.0 555.2 L748.1 537.8 L768.7 542.1 M661.2 440.0 L683.6 478.0 L641.9 510.8 L710.4 478.6 L707.1 501.4 L810.0 486.7 L813.4 486.7 L815.6 508.7 L765.3 586.9 M620.4 503.0 L638.9 491.1 L665.0 485.1 L709.5 479.7 L730.1 478.0 L733.3 480.0 L805.0 473.7 L792.5 469.3 L759.3 472.0 M732.9 483.5 L725.3 484.0 L757.8 440.0 M760.6 456.3 L765.1 440.0 M756.1 465.0 L732.2 478.6 M751.7 472.6 L732.2 479.3 M792.1 469.3 L730.1 493.2 L716.0 495.9 L766.5 526.4 L731.2 529.6 M789.3 511.7 L776.3 503.0 L761.1 510.1 L749.7 507.9 L725.3 509.0 L700.8 529.1 L673.7 557.9 L651.4 565.8 L673.7 570.4 M653.0 567.1 L670.4 559.5 M845.4 460.0 L824.5 477.5 L806.0 472.6 L792.5 469.3 M802.2 455.2 L834.8 463.1 L825.6 487.8 L839.9 493.8 L854.9 491.6 M788.7 452.5 L807.1 471.0 L823.4 473.1 L824.5 468.0 L844.6 460.6 L869.6 465.5 L878.0 475.6 L864.7 485.1 M818.5 440.0 L812.6 465.5 L825.6 482.4 M866.9 489.4 L882.1 486.9 L899.7 489.4 M858.7 495.4 L838.6 535.8 L808.8 561.7 L787.0 569.3 L769.7 563.1 L787.0 578.2 L809.3 593.7 L829.4 605.1 M636.4 640.0 L642.4 652.4 L644.5 694.4 M618.7 680.2 L609.8 684.7 L630.5 753.6 L624.6 770.2 L577.3 768.6 L531.7 783.2 L498.6 820.5 L511.0 844.4 M618.7 680.2 L614.0 696.8 L609.8 705.1 L612.2 726.4 L664.9 717.5 L680.0 724.0 L694.3 728.8 L707.9 726.4 L744.0 714.8 L744.6 710.7 L756.4 711.2 L776.5 717.8 L792.5 716.3 L781.8 701.5 L800.2 698.8 L839.2 712.8 L896.0 741.2 L916.4 746.8 L928.3 748.9 M536.4 724.6 L570.8 754.8 L590.9 763.7 L609.2 777.9 L636.4 778.5 M642.7 779.4 L680.0 780.5 L698.4 780.2 L741.0 765.4 L807.3 772.3 L823.8 770.8 L836.9 773.7 M523.2 741.4 L587.9 757.2 L615.1 770.8 L637.0 779.1 M596.4 744.1 L624.6 751.5 L680.0 741.2 L687.8 740.4 L707.9 740.4 L735.1 738.0 L739.2 723.4 M645.9 774.9 L660.1 759.5 L676.7 745.3 L699.6 748.9 L736.3 764.3 L771.8 773.7 L793.1 815.1 L839.8 816.3 L863.5 809.2 L870.0 823.7 M651.8 776.7 L680.0 792.7 L692.5 799.2 L724.4 844.4 M472.9 835.5 L521.7 811.6 L579.6 777.0 L609.8 781.2 L632.9 798.0 L680.0 804.3 L684.2 804.9 L707.3 829.3 L664.9 844.4 M457.4 835.3 L453.3 823.8 L456.6 828.2 M461.9 834.7 L473.7 844.4 M704.1 674.7 L720.9 684.4 L729.8 679.9 L778.3 708.0 L815.6 703.3 L861.7 689.7 L860.8 725.2 L844.0 772.5 L831.9 786.2 M725.0 739.4 L704.3 697.8 L689.5 698.0 L733.9 687.3 L775.9 684.7 L790.7 695.6 L799.0 706.3 L803.1 733.5 M761.1 729.3 L786.0 757.2 L794.3 767.8 L796.0 777.9 L810.2 781.7 M802.5 743.6 L794.0 762.5 L794.9 767.2 L824.4 753.8 L854.0 755.7 L878.3 754.2 L896.6 746.5 M812.6 738.8 L828.0 741.2 L834.5 770.2 L833.9 774.9 M814.4 780.5 L842.8 768.6 L878.9 753.8 M841.6 769.2 L838.6 783.8 L859.9 774.9 L910.0 740.4 L916.4 736.8 L926.9 751.1 L955.1 767.4 M842.2 769.6 L844.0 794.4 L871.8 814.6 L894.9 798.8 M724.4 798.6 L730.9 806.9 L740.4 837.6 L755.2 843.8 L764.7 844.4 L814.4 836.4 L808.5 823.7 L791.9 827.0" fill="none" stroke="#0000ff" stroke-width="1.5" stroke-linejoin="round" stroke-linecap="butt"/>
<circle cx="682.4" cy="134.4" r="6.4" fill="#0000ff"/>
<circle cx="895.8" cy="116.1" r="6.4" fill="#0000ff"/>
<circle cx="873.9" cy="160.4" r="6.4" fill="#0000ff"/>
<circle cx="839.1" cy="167.3" r="6.4" fill="#0000ff"/>
<circle cx="844.5" cy="175.5" r="6.4" fill="#0000ff"/>
<circle cx="860.2" cy="193.7" r="6.4" fill="#0000ff"/>
<circle cx="988.5" cy="188.3" r="6.4" fill="#0000ff"/>
<circle cx="905.3" cy="276.9" r="6.4" fill="#0000ff"/>
<circle cx="961.5" cy="273.1" r="6.4" fill="#0000ff"/>
<circle cx="805.2" cy="234.5" r="6.4" fill="#0000ff"/>
<circle cx="921.8" cy="323.0" r="6.4" fill="#0000ff"/>
<circle cx="639.5" cy="314.5" r="6.4" fill="#0000ff"/>
<circle cx="726.4" cy="325.4" r="6.4" fill="#0000ff"/>
<circle cx="743.2" cy="330.6" r="6.4" fill="#0000ff"/>
<circle cx="718.0" cy="344.5" r="6.4" fill="#0000ff"/>
<circle cx="822.5" cy="350.1" r="6.4" fill="#0000ff"/>
<circle cx="681.8" cy="387.3" r="6.4" fill="#0000ff"/>
<circle cx="754.1" cy="412.3" r="6.4" fill="#0000ff"/>
<circle cx="961.7" cy="273.3" r="6.4" fill="#0000ff"/>
<circle cx="508.5" cy="306.2" r="6.4" fill="#0000ff"/>
<circle cx="454.5" cy="385.4" r="6.4" fill="#0000ff"/>
<circle cx="460.7" cy="394.4" r="6.4" fill="#0000ff"/>
<circle cx="519.1" cy="401.2" r="6.4" fill="#0000ff"/>
<circle cx="628.6" cy="390.8" r="6.4" fill="#0000ff"/>
<circle cx="403.6" cy="421.7" r="6.4" fill="#0000ff"/>
<circle cx="313.2" cy="445.1" r="6.4" fill="#0000ff"/>
<circle cx="254.2" cy="486.9" r="6.4" fill="#0000ff"/>
<circle cx="305.1" cy="485.5" r="6.4" fill="#0000ff"/>
<circle cx="290.4" cy="510.3" r="6.4" fill="#0000ff"/>
<circle cx="327.8" cy="508.9" r="6.4" fill="#0000ff"/>
<circle cx="264.2" cy="519.8" r="6.4" fill="#0000ff"/>
<circle cx="281.4" cy="528.2" r="6.4" fill="#0000ff"/>
<circle cx="301.7" cy="525.1" r="6.4" fill="#0000ff"/>
<circle cx="244.7" cy="540.7" r="6.4" fill="#0000ff"/>
<circle cx="758.9" cy="462.6" r="6.4" fill="#0000ff"/>
<circle cx="753.0" cy="472.4" r="6.4" fill="#0000ff"/>
<circle cx="679.6" cy="571.8" r="6.4" fill="#0000ff"/>
<circle cx="860.9" cy="489.6" r="6.4" fill="#0000ff"/>
<circle cx="644.7" cy="700.4" r="6.4" fill="#0000ff"/>
<circle cx="536.4" cy="724.6" r="6.4" fill="#0000ff"/>
<circle cx="523.2" cy="741.4" r="6.4" fill="#0000ff"/>
<circle cx="596.4" cy="744.1" r="6.4" fill="#0000ff"/>
<circle cx="642.7" cy="779.4" r="6.4" fill="#0000ff"/>
<circle cx="457.4" cy="835.3" r="6.4" fill="#0000ff"/>
<circle cx="472.9" cy="835.5" r="6.4" fill="#0000ff"/>
<circle cx="704.1" cy="674.7" r="6.4" fill="#0000ff"/>
<circle cx="757.2" cy="724.6" r="6.4" fill="#0000ff"/>
<circle cx="806.4" cy="738.5" r="6.4" fill="#0000ff"/>
<circle cx="727.6" cy="744.5" r="6.4" fill="#0000ff"/>
<circle cx="720.9" cy="793.5" r="6.4" fill="#0000ff"/>
<circle cx="336.7" cy="596.5" r="6.4" fill="#0000ff"/>
<circle cx="250.8" cy="628.0" r="6.4" fill="#0000ff"/>
</g>
<g clip-path="url(#cb)">
<path d="M1107.7 -10.0 L1107.7 118.0 L1116.6 118.8 L1120.3 117.2 L1122.9 116.7 L1125.9 115.7 L1129.0 111.7 L1133.0 109.1 L1134.5 109.6 L1135.1 112.7 L1133.5 116.2 L1132.0 118.3 L1134.5 117.7 L1138.1 115.2 L1139.6 112.2 L1139.3 109.6 L1140.1 105.1 L1141.7 103.5 L1143.2 105.1 L1145.2 107.1 L1147.8 105.6 L1147.2 109.1 L1145.7 111.7 L1145.2 113.7 L1147.2 114.7 L1149.8 114.2 L1152.3 112.2 L1155.4 110.1 L1157.4 107.1 L1158.4 104.0 L1156.4 102.0 L1153.8 100.5 L1153.3 95.9 L1151.8 92.4 L1150.3 90.3 L1153.3 89.3 L1156.4 86.8 L1159.4 88.8 L1159.9 92.4 L1158.4 95.4 L1158.9 98.4 L1161.5 101.5 L1163.5 100.5 L1164.0 95.9 L1165.0 97.9 L1165.5 100.0 L1168.1 101.0 L1169.1 105.1 L1170.6 109.1 L1171.6 110.6 L1173.7 108.6 L1176.2 109.1 L1178.7 110.6 L1179.2 108.1 L1177.7 104.5 L1178.2 100.5 L1179.2 96.9 L1180.3 99.5 L1180.8 104.5 L1182.8 106.6 L1183.8 109.1 L1186.9 110.6 L1189.9 110.6 L1194.0 109.1 L1195.5 110.6 L1198.0 111.1 L1200.6 111.7 L1201.1 115.2 L1200.1 117.7 L1197.0 119.3 L1194.0 120.3 L1193.0 122.8 L1196.0 124.9 L1200.6 126.4 L1203.1 124.9 L1205.7 123.8 L1207.2 120.8 L1208.7 122.3 L1211.2 123.3 L1214.3 122.8 L1219.4 122.3 L1224.5 120.3 L1228.5 118.8 L1231.1 116.2 L1232.1 112.7 L1231.6 109.1 L1229.5 105.6 L1228.0 103.0 L1227.5 106.1 L1225.0 105.6 L1227.5 102.5 L1230.6 100.0 L1234.1 99.0 L1231.1 101.5 L1230.6 104.0 L1233.1 107.1 L1234.6 106.1 L1235.6 110.1 L1237.2 112.7 L1239.2 110.6 L1239.7 114.7 L1240.2 117.7 L1242.7 119.8 L1244.8 121.8 L1244.8 117.7 L1244.3 112.7 L1246.3 115.2 L1247.8 118.8 L1249.9 120.8 L1251.9 119.8 L1254.9 120.8 L1259.5 120.3 L1259.0 122.8 L1257.0 125.4 L1258.0 130.4 L1254.4 129.4 L1248.8 130.4 L1245.3 131.5 L1246.3 135.0 L1245.8 139.1 L1244.8 143.1 L1244.3 146.2 L1242.7 143.7 L1240.2 146.2 L1239.2 149.2 L1240.7 154.3 L1239.2 158.4 L1238.2 163.0 L1239.2 167.5 L1241.7 171.6 L1244.3 168.5 L1245.3 172.6 L1244.8 176.7 L1246.8 180.7 L1250.4 180.2 L1250.9 182.3 L1247.8 183.3 L1244.8 183.8 L1244.3 186.3 L1247.8 187.9 L1248.8 191.4 L1251.4 193.4 L1249.9 196.5 L1253.4 198.0 L1254.9 200.5 L1258.0 197.5 L1259.0 201.1 L1263.1 202.1 L1264.1 204.6 L1261.5 206.6 L1264.6 207.7 L1262.0 208.7 L1260.0 206.1 L1256.5 203.6 L1253.4 205.1 L1254.9 209.2 L1257.5 210.2 L1259.0 214.3 L1257.0 218.3 L1260.0 214.6 L1263.1 213.1 L1266.2 214.6 L1270.1 217.7 L1273.2 218.9 L1275.9 217.3 L1278.6 216.9 L1282.9 218.1 L1286.3 216.2 L1290.2 214.6 L1294.1 212.3 L1296.4 209.2 L1298.7 205.3 L1301.0 202.2 L1301.8 199.1 L1300.7 196.0 L1299.1 192.9 L1297.6 189.8 L1294.9 191.4 L1292.5 189.1 L1291.0 186.4 L1288.7 185.2 L1286.0 186.4 L1284.4 182.9 L1287.1 181.7 L1285.6 178.2 L1287.1 176.7 L1288.7 179.0 L1291.0 179.0 L1291.8 175.9 L1291.0 172.8 L1288.7 170.5 L1285.6 169.3 L1282.5 169.7 L1279.4 168.9 L1275.5 170.1 L1275.1 167.4 L1275.5 164.3 L1275.1 161.2 L1273.6 158.9 L1277.8 154.2 L1282.5 151.9 L1287.1 149.6 L1291.0 148.0 L1292.5 144.2 L1293.3 140.3 L1291.8 137.2 L1289.4 134.9 L1291.0 131.8 L1290.6 127.2 L1292.5 128.7 L1294.1 131.8 L1296.4 134.9 L1295.6 138.0 L1294.9 141.1 L1297.9 142.6 L1301.0 141.9 L1305.7 141.1 L1308.0 139.5 L1308.4 134.9 L1308.0 131.0 L1309.6 133.3 L1310.3 137.2 L1312.7 134.1 L1315.0 131.0 L1318.1 128.3 L1321.2 126.0 L1323.5 127.9 L1326.6 127.9 L1329.7 126.4 L1332.8 125.2 L1335.9 124.1 L1336.6 121.0 L1335.1 118.6 L1337.4 116.7 L1339.7 119.4 L1342.8 120.2 L1346.7 119.8 L1349.0 117.9 L1353.7 118.3 L1351.4 120.6 L1356.0 121.7 L1353.7 124.1 L1354.4 126.0 L1358.3 123.3 L1362.2 120.6 L1365.3 118.6 L1363.0 116.3 L1366.1 114.8 L1367.6 111.7 L1369.2 114.8 L1373.0 116.7 L1376.1 116.3 L1378.1 113.2 L1380.0 115.5 L1382.3 116.3 L1384.6 113.2 L1387.7 110.5 L1390.8 109.3 L1393.1 105.5 L1392.4 102.4 L1389.3 100.1 L1385.4 97.7 L1384.6 96.2 L1388.5 97.7 L1392.4 97.7 L1396.2 97.7 L1397.0 100.8 L1396.2 103.9 L1399.3 105.5 L1402.4 102.4 L1405.5 99.3 L1408.6 97.0 L1407.9 93.9 L1411.7 95.4 L1415.6 94.6 L1417.7 94.3 L1402.4 102.4 L1405.5 99.3 L1408.2 97.1 L1407.7 93.6 L1409.5 94.5 L1409.9 96.7 L1413.4 95.8 L1417.7 95.4 L1421.2 94.5 L1423.0 92.7 L1423.1 96.7 L1423.0 99.3 L1425.6 101.0 L1427.3 103.2 L1430.8 103.2 L1435.1 101.9 L1438.2 101.0 L1439.5 97.5 L1439.3 93.2 L1437.8 88.8 L1436.0 82.7 L1434.7 80.1 L1436.5 81.9 L1438.6 84.9 L1441.2 83.6 L1444.7 84.0 L1441.2 85.8 L1439.9 88.0 L1439.9 91.4 L1441.2 93.6 L1444.7 95.8 L1447.3 97.5 L1449.5 99.3 L1452.6 98.4 L1455.2 96.2 L1456.0 92.3 L1458.7 91.0 L1460.4 88.0 L1463.0 87.1 L1464.3 84.0 L1467.4 82.7 L1469.1 81.0 L1471.7 83.2 L1472.6 87.1 L1474.3 89.7 L1475.6 91.4 L1478.7 90.1 L1480.9 88.0 L1483.5 83.6 L1483.9 81.0 L1482.6 77.5 L1481.7 74.0 L1482.6 70.5 L1485.2 67.1 L1487.8 63.6 L1487.8 56.6 L1487.4 48.8 L1486.5 45.3 L1483.9 43.5 L1481.3 40.9 L1476.1 39.2 L1480.4 39.6 L1483.9 42.7 L1486.5 44.4 L1488.3 43.5 L1488.7 47.0 L1488.7 55.7 L1489.1 62.7 L1492.2 61.8 L1490.0 64.0 L1490.0 68.8 L1490.4 74.0 L1492.6 75.3 L1496.1 75.8 L1497.0 74.0 L1497.8 76.6 L1500.0 75.8 L1501.3 72.3 L1500.9 68.8 L1503.5 66.2 L1504.4 63.6 L1506.1 61.0 L1505.7 56.6 L1503.9 53.1 L1502.2 50.9 L1505.7 53.1 L1507.4 56.6 L1508.7 59.2 L1511.8 62.7 L1514.4 66.2 L1517.9 66.2 L1520.5 64.9 L1519.6 61.8 L1521.4 62.7 L1523.5 60.1 L1524.0 55.7 L1525.3 51.4 L1522.2 49.6 L1520.9 47.0 L1523.1 40.9 L1523.5 34.8 L1517.9 34.4 L1523.1 33.5 L1524.0 29.6 L1518.3 25.7 L1524.4 27.9 L1525.7 25.3 L1524.4 21.8 L1518.3 20.0 L1524.8 20.5 L1526.2 17.4 L1523.1 13.1 L1519.6 10.5 L1517.9 7.0 L1510.0 8.3 L1511.8 6.5 L1517.9 5.2 L1518.7 1.7 L1520.5 1.7 L1522.2 8.7 L1525.7 14.8 L1527.5 13.1 L1524.0 5.2 L1523.1 1.7 L1527.5 2.6 L1526.6 7.0 L1526.2 10.5 L1528.3 16.5 L1530.5 17.0 L1530.9 20.0 L1534.4 19.2 L1537.9 20.9 L1538.9 27.2 L1540.9 30.4 L1542.9 33.6 L1544.7 35.6 L1546.9 36.6 L1547.3 38.0 L1545.7 39.6 L1545.1 41.2 L1546.1 42.8 L1548.1 42.4 L1549.7 40.8 L1550.1 38.0 L1552.5 37.8 L1555.3 38.6 L1557.9 39.6 L1556.9 41.6 L1556.3 42.6 L1554.5 41.8 L1552.9 43.6 L1550.9 45.6 L1548.1 47.2 L1547.9 48.8 L1548.9 50.8 L1550.5 51.0 L1551.9 49.4 L1553.7 50.8 L1555.3 51.6 L1558.5 51.4 L1562.1 50.8 L1563.7 51.6 L1565.3 53.2 L1566.9 54.4 L1568.5 56.0 L1569.7 54.4 L1571.7 54.0 L1572.9 55.2 L1574.5 54.8 L1576.1 56.0 L1577.7 55.2 L1579.3 54.0 L1581.3 55.6 L1582.1 53.2 L1581.3 51.2 L1582.9 49.6 L1583.7 47.2 L1584.5 46.0 L1582.9 45.2 L1581.7 43.2 L1581.3 40.8 L1580.1 39.6 L1578.5 38.0 L1577.7 36.0 L1576.1 35.6 L1574.9 36.8 L1573.7 36.0 L1572.1 36.4 L1570.1 37.2 L1572.5 34.4 L1575.3 32.8 L1579.7 31.6 L1583.3 31.0 L1585.3 32.0 L1586.5 34.0 L1588.9 36.0 L1589.3 39.2 L1589.5 42.4 L1590.5 44.0 L1592.1 44.4 L1593.7 42.8 L1595.3 42.0 L1597.7 41.2 L1599.7 39.6 L1599.3 37.6 L1597.7 36.0 L1595.3 35.6 L1593.7 34.0 L1592.5 33.2 L1594.5 32.0 L1596.9 30.0 L1597.7 27.6 L1599.3 27.2 L1596.9 26.8 L1593.7 27.2 L1590.9 28.4 L1591.7 26.0 L1592.9 24.0 L1594.5 22.0 L1597.7 21.2 L1600.1 20.0 L1599.3 20.8 L1604.1 18.4 L1608.0 16.9 L1611.4 14.0 L1614.8 16.4 L1613.3 18.4 L1609.9 18.9 L1608.5 23.2 L1609.0 27.1 L1608.0 29.0 L1609.0 32.9 L1611.9 33.4 L1615.8 32.4 L1618.7 31.9 L1620.6 34.8 L1621.6 30.0 L1624.5 26.1 L1627.4 24.2 L1630.3 22.7 L1631.2 18.4 L1635.1 17.4 L1639.0 16.0 L1642.8 15.0 L1645.8 14.5 L1647.7 12.1 L1651.1 9.2 L1650.6 11.6 L1647.2 15.5 L1644.8 17.9 L1647.7 17.4 L1650.6 16.9 L1653.0 19.4 L1652.0 22.3 L1653.5 24.2 L1656.4 25.6 L1661.2 24.7 L1665.1 25.6 L1669.0 28.1 L1670.4 26.1 L1669.5 22.7 L1671.9 20.8 L1669.0 20.8 L1666.1 21.3 L1667.0 17.9 L1669.0 14.5 L1670.9 10.6 L1674.8 10.2 L1679.6 11.6 L1682.5 13.1 L1685.4 16.0 L1686.4 18.9 L1687.4 20.8 L1691.2 18.4 L1695.1 16.4 L1699.0 15.5 L1702.8 13.5 L1706.7 12.6 L1708.2 14.5 L1711.5 12.6 L1714.4 8.7 L1717.4 5.8 L1721.2 3.4 L1724.1 2.9 L1728.0 6.3 L1731.9 5.8 L1736.7 5.3 L1738.6 1.9 L1739.7 -10.0Z M2001.1 -4.8 L2002.0 1.0 L2004.0 3.9 L2005.0 7.3 L2005.9 11.1 L2007.9 12.1 L2006.9 14.0 L2008.8 19.4 L2010.8 24.2 L2012.2 25.6 L2010.3 28.1 L2010.8 31.0 L2013.2 33.9 L2016.1 37.3 L2019.0 40.2 L2021.4 42.1 L2022.9 41.1 L2024.8 44.5 L2028.7 46.4 L2031.6 48.4 L2034.9 50.6 L2037.8 53.7 L2039.8 56.6 L2039.3 60.0 L2042.2 63.4 L2043.7 67.7 L2044.9 71.6 L2043.2 74.5 L2042.0 77.4 L2043.7 80.3 L2045.1 82.3 L2044.1 84.2 L2046.1 86.1 L2048.0 84.7 L2049.0 82.7 L2051.4 83.7 L2054.3 86.1 L2055.8 87.8 L2054.8 85.2 L2054.3 81.8 L2056.2 79.4 L2057.7 77.9 L2058.2 75.5 L2057.2 73.1 L2058.2 71.6 L2057.2 69.7 L2058.2 66.8 L2057.7 62.9 L2057.2 58.1 L2057.2 54.2 L2059.6 48.4 L2062.0 42.6 L2064.0 37.7 L2064.9 33.9 L2065.9 33.4 L2074.1 32.9 L2074.1 -4.8Z M2084.9 343.7 L2065.5 344.3 L2062.1 347.2 L2058.6 345.4 L2055.2 340.9 L2051.8 341.4 L2049.5 343.7 L2048.9 347.7 L2044.9 348.9 L2039.2 348.3 L2035.8 350.0 L2033.5 352.9 L2035.8 357.4 L2036.9 363.2 L2034.6 367.7 L2031.7 373.5 L2030.0 379.2 L2027.2 384.9 L2027.7 389.5 L2028.9 391.7 L2025.5 395.2 L2024.3 398.6 L2025.5 404.3 L2021.5 405.5 L2023.7 409.5 L2020.9 412.3 L2018.6 414.6 L2019.2 419.2 L2016.9 423.2 L2019.7 427.2 L2022.6 428.3 L2025.5 431.8 L2026.6 436.3 L2025.5 440.9 L2023.7 442.1 L2023.7 447.8 L2022.6 451.2 L2023.7 454.6 L2024.9 460.4 L2026.0 467.2 L2023.7 471.8 L2020.9 475.2 L2016.9 479.2 L2016.9 485.5 L2015.7 492.4 L2013.5 496.4 L2015.2 499.2 L2016.0 500.0 L2015.5 505.7 L2016.6 512.6 L2017.7 519.4 L2020.0 522.9 L2022.9 526.3 L2023.5 530.3 L2020.6 533.7 L2016.6 537.7 L2012.0 540.0 L2007.5 541.2 L2002.9 539.5 L2000.0 536.6 L2000.6 533.2 L1998.9 530.9 L1996.0 529.7 L1995.4 527.4 L1991.4 526.3 L1988.0 524.6 L1985.7 524.6 L1986.9 521.7 L1986.3 518.3 L1988.0 514.9 L1989.2 512.0 L1986.9 510.3 L1984.6 513.2 L1981.2 515.4 L1978.3 516.6 L1976.6 519.4 L1976.0 524.0 L1974.9 529.7 L1975.4 535.4 L1974.9 541.2 L1974.3 545.7 L1976.0 549.2 L1978.3 549.2 L1980.6 546.3 L1982.9 546.9 L1984.6 551.5 L1985.7 556.0 L1985.2 560.6 L1983.4 564.0 L1986.3 565.8 L1988.0 568.6 L1986.3 572.0 L1986.9 575.5 L1989.7 578.9 L1989.2 581.8 L1986.3 584.6 L1984.6 587.5 L1988.0 591.5 L1990.9 596.1 L1993.7 600.1 L1994.9 605.2 L1996.6 610.9 L1998.3 616.6 L1997.7 623.5 L1997.2 626.9 L1998.9 630.4 L2000.0 636.1 L2002.9 637.8 L2006.3 638.9 L2008.0 634.9 L2008.0 629.2 L2009.7 628.1 L2012.0 631.5 L2014.3 633.2 L2012.6 637.2 L2010.9 642.4 L2013.7 646.4 L2017.7 647.5 L2021.2 650.9 L2020.6 655.5 L2022.9 660.1 L2028.0 662.4 L2029.2 663.5 L2033.8 661.8 L2036.6 658.4 L2037.2 653.2 L2036.0 647.5 L2034.3 641.8 L2033.2 637.2 L2033.8 633.8 L2038.3 633.2 L2040.6 635.5 L2045.2 637.2 L2049.8 637.2 L2054.3 636.6 L2057.8 639.5 L2061.2 644.1 L2063.5 648.7 L2064.6 653.2 L2065.5 656.7 L2086.4 656.7Z M2086.4 657.8 L2065.5 657.8 L2060.1 659.5 L2057.8 657.8 L2056.6 661.2 L2053.2 664.7 L2048.6 669.2 L2044.0 672.1 L2039.5 673.8 L2037.2 677.2 L2035.5 681.8 L2036.0 686.4 L2037.2 691.0 L2038.3 695.5 L2036.8 698.5 L2038.2 703.3 L2038.2 708.2 L2040.2 711.6 L2042.1 711.1 L2042.6 705.3 L2044.1 700.9 L2047.9 699.4 L2052.8 700.4 L2056.7 701.9 L2059.1 705.3 L2058.6 709.2 L2060.1 712.1 L2057.7 715.0 L2056.7 717.4 L2058.6 717.9 L2061.6 715.0 L2064.5 712.1 L2065.7 711.1 L2082.9 711.1Z M2082.9 730.5 L2065.7 730.5 L2061.6 731.0 L2055.7 732.5 L2048.9 734.4 L2042.1 733.0 L2034.3 732.0 L2027.5 730.5 L2023.2 729.6 L2018.8 730.5 L2015.4 733.0 L2013.9 736.4 L2014.9 739.3 L2017.3 741.2 L2020.2 741.2 L2022.2 738.3 L2025.1 737.8 L2027.1 740.8 L2028.0 744.6 L2028.5 748.0 L2030.5 750.0 L2030.9 752.4 L2033.9 753.4 L2037.3 755.3 L2040.2 757.8 L2042.6 761.6 L2045.0 765.5 L2047.5 769.4 L2048.9 774.3 L2049.4 778.2 L2047.5 780.6 L2049.9 782.1 L2050.9 785.9 L2051.4 789.8 L2053.8 790.8 L2056.2 793.7 L2058.6 797.6 L2061.1 800.5 L2060.6 804.4 L2059.6 806.4 L2062.5 810.7 L2065.7 814.1 L2082.9 816.1Z M1984.8 855.0 L1984.8 844.3 L1987.7 839.4 L1985.7 834.5 L1983.8 829.7 L1981.9 826.8 L1983.8 824.8 L1982.8 821.4 L1985.7 820.0 L1987.7 822.9 L1990.6 824.3 L1994.5 825.8 L1997.4 828.7 L2000.3 831.6 L2003.2 834.5 L2005.7 835.5 L2008.1 833.6 L2007.1 829.7 L2008.6 827.7 L2011.0 831.6 L2013.9 834.5 L2016.8 837.5 L2018.3 841.4 L2017.8 844.3 L2017.8 855.0Z M1102.4 519.0 L1116.6 519.0 L1118.9 517.5 L1120.9 521.1 L1122.5 524.7 L1119.9 525.2 L1123.0 526.8 L1127.1 527.8 L1131.7 526.8 L1129.2 529.3 L1127.1 531.4 L1126.1 534.0 L1128.1 536.5 L1131.7 537.6 L1133.3 535.5 L1132.8 532.9 L1135.9 531.9 L1139.5 532.9 L1141.5 534.0 L1140.0 536.0 L1136.4 536.5 L1134.3 537.6 L1134.8 541.2 L1136.9 544.3 L1139.5 548.4 L1143.1 550.4 L1146.1 552.5 L1147.2 555.6 L1148.2 559.2 L1150.8 563.8 L1153.9 569.0 L1157.5 574.1 L1161.1 578.7 L1164.2 581.3 L1167.2 581.3 L1167.8 585.4 L1171.4 588.5 L1173.4 590.6 L1174.4 588.0 L1177.0 587.5 L1178.0 590.6 L1180.6 593.7 L1182.2 597.8 L1185.3 600.9 L1184.7 603.4 L1182.7 605.0 L1182.7 608.1 L1180.1 608.6 L1183.2 610.1 L1183.7 614.2 L1184.7 619.4 L1186.8 624.5 L1189.4 630.7 L1188.3 632.2 L1191.4 634.8 L1194.0 638.9 L1196.1 642.5 L1195.0 647.2 L1196.1 651.3 L1194.5 652.3 L1195.5 656.4 L1197.6 660.5 L1199.7 664.7 L1199.1 665.4 L1201.8 669.8 L1204.0 674.1 L1205.0 677.9 L1202.9 680.6 L1200.7 682.8 L1202.9 685.0 L1206.1 683.9 L1206.1 688.2 L1208.8 692.6 L1208.3 698.0 L1209.9 701.8 L1212.1 702.9 L1212.1 707.8 L1211.0 713.2 L1207.8 712.1 L1205.6 708.9 L1206.1 703.5 L1207.2 702.4 L1205.0 706.7 L1206.7 714.3 L1208.3 718.7 L1207.8 724.1 L1209.9 726.3 L1211.0 730.6 L1214.3 735.0 L1213.2 739.3 L1210.5 738.2 L1207.8 736.0 L1206.1 738.2 L1208.3 742.6 L1211.0 745.8 L1213.7 749.1 L1211.0 751.3 L1211.6 755.6 L1212.6 760.5 L1215.4 765.4 L1218.6 770.8 L1221.9 774.6 L1223.5 777.3 L1223.0 780.0 L1220.3 779.5 L1217.5 781.7 L1215.9 784.9 L1217.0 790.4 L1215.4 786.0 L1212.6 787.6 L1209.4 790.4 L1206.1 793.1 L1204.5 796.9 L1205.0 801.2 L1207.2 804.5 L1209.4 806.7 L1212.1 809.9 L1212.1 813.7 L1214.3 815.4 L1212.1 817.5 L1209.4 818.6 L1207.2 815.4 L1205.0 812.1 L1201.8 810.5 L1200.2 812.6 L1202.9 815.4 L1205.6 818.6 L1206.7 823.0 L1205.6 826.2 L1204.0 830.0 L1207.2 829.5 L1209.9 827.3 L1213.2 828.9 L1214.3 832.7 L1211.0 832.7 L1207.8 833.8 L1205.0 834.9 L1205.0 839.3 L1206.1 844.1 L1206.1 855.5 L1101.8 855.5Z M1312.6 223.7 L1314.5 228.6 L1317.9 233.0 L1323.8 235.9 L1330.6 234.9 L1332.0 239.3 L1334.0 246.1 L1335.9 252.9 L1336.4 258.7 L1338.4 264.1 L1334.5 265.1 L1330.6 268.5 L1326.7 272.3 L1324.3 271.9 L1321.8 267.5 L1323.8 265.5 L1322.3 269.4 L1322.3 274.3 L1319.9 278.2 L1317.0 282.1 L1313.1 284.0 L1312.1 287.9 L1309.7 290.8 L1309.2 294.7 L1307.2 298.6 L1305.3 302.0 L1301.4 303.0 L1304.3 304.9 L1304.3 309.3 L1301.9 312.2 L1300.9 317.1 L1300.4 321.9 L1301.4 326.8 L1301.9 330.7 L1299.5 331.2 L1296.6 333.1 L1293.6 335.5 L1288.8 338.4 L1283.9 340.4 L1279.1 344.3 L1274.2 348.2 L1269.3 351.6 L1268.4 355.9 L1266.9 359.8 L1264.5 361.8 L1261.1 360.8 L1260.6 358.4 L1255.7 359.8 L1249.9 361.8 L1245.5 360.8 L1244.1 364.7 L1242.6 368.6 L1243.6 371.5 L1243.1 375.4 L1240.7 376.4 L1238.2 375.4 L1234.8 377.3 L1231.4 379.3 L1229.5 376.4 L1226.6 375.4 L1224.1 375.9 L1224.6 372.5 L1220.7 369.5 L1214.9 368.1 L1209.1 367.6 L1201.3 369.1 L1199.4 365.2 L1195.5 363.2 L1188.2 363.7 L1183.8 359.8 L1178.9 357.9 L1173.6 354.0 L1166.3 352.1 L1165.3 348.2 L1167.3 343.3 L1167.3 337.5 L1166.8 331.6 L1164.4 328.7 L1161.4 326.8 L1162.9 321.9 L1164.4 317.1 L1162.9 312.2 L1161.0 306.4 L1163.9 304.4 L1165.3 300.5 L1162.4 296.6 L1162.4 291.8 L1165.3 288.9 L1165.3 285.0 L1170.7 284.0 L1176.0 279.6 L1181.9 276.2 L1185.7 273.3 L1188.7 268.9 L1193.5 266.5 L1199.4 263.6 L1204.2 260.7 L1201.3 257.8 L1200.8 252.9 L1204.2 248.5 L1207.1 246.6 L1208.6 243.7 L1212.0 242.2 L1214.9 243.7 L1218.8 244.2 L1221.7 246.6 L1224.1 249.5 L1227.5 248.0 L1230.0 246.6 L1227.1 244.2 L1228.5 239.8 L1232.4 236.9 L1237.3 235.4 L1241.2 234.9 L1244.1 238.3 L1248.4 239.3 L1250.9 241.2 L1252.8 236.9 L1256.7 235.9 L1259.6 238.8 L1261.6 241.2 L1264.5 238.8 L1268.4 237.4 L1271.3 236.4 L1273.2 232.5 L1277.1 230.6 L1282.9 233.0 L1286.8 230.6 L1289.8 229.6 L1293.6 231.5 L1298.5 233.5 L1302.4 235.4 L1303.8 231.5 L1304.3 228.1 L1309.2 226.7Z M1394.7 114.0 L1397.0 112.4 L1399.3 109.3 L1397.0 107.4 L1400.1 106.3 L1404.8 106.6 L1408.6 107.4 L1409.4 109.0 L1406.3 110.5 L1402.4 112.1 L1398.6 114.4 L1395.5 114.8Z M1276.3 159.7 L1280.9 158.1 L1284.8 157.0 L1290.2 156.6 L1294.9 157.7 L1298.7 159.7 L1299.9 163.5 L1301.0 165.1 L1302.2 159.7 L1303.0 153.5 L1301.0 151.9 L1296.4 153.9 L1294.1 152.3 L1291.8 150.0 L1288.7 151.5 L1284.8 153.1 L1280.9 155.4 L1277.8 157.3Z M1294.9 143.4 L1298.7 141.9 L1302.6 142.6 L1306.5 141.5 L1308.0 140.3 L1307.2 144.2 L1305.7 148.0 L1304.1 151.1 L1301.8 148.8 L1299.5 145.7 L1296.4 145.0Z M1303.4 166.2 L1304.9 162.8 L1306.8 161.2 L1309.6 163.1 L1308.8 166.6 L1307.6 168.9 L1304.5 168.2Z M1446.5 111.9 L1447.3 108.9 L1450.0 105.4 L1453.4 102.8 L1457.8 102.3 L1456.0 104.5 L1454.3 107.1 L1451.7 109.7 L1450.0 111.9Z M1460.8 103.2 L1463.0 101.0 L1465.6 98.4 L1470.0 97.1 L1472.6 98.4 L1470.0 100.1 L1468.2 102.8 L1467.4 106.2 L1468.2 108.9 L1467.4 112.8 L1464.8 113.6 L1462.6 111.0 L1463.9 108.0 L1463.0 105.4 L1460.8 104.5Z M1439.7 105.8 L1440.8 104.1 L1442.3 104.9 L1441.7 107.3 L1440.2 107.6Z M1481.5 90.6 L1482.6 89.0 L1484.3 89.3 L1484.8 91.0 L1483.5 92.3 L1482.0 91.9Z M1490.0 86.6 L1491.3 84.5 L1493.1 83.4 L1492.6 85.3 L1491.1 87.3Z M1490.9 91.0 L1493.1 90.1 L1495.2 91.0 L1493.5 92.7 L1491.6 93.2Z M1503.5 78.4 L1504.8 74.9 L1507.9 73.6 L1510.5 75.8 L1510.9 79.2 L1508.3 81.0 L1505.3 80.1Z M1542.5 64.0 L1542.7 62.0 L1544.1 59.6 L1546.5 57.6 L1549.3 56.4 L1549.7 54.8 L1550.5 56.4 L1552.9 55.6 L1555.3 54.4 L1557.3 54.0 L1557.7 56.0 L1556.9 58.0 L1557.7 59.6 L1556.1 60.8 L1556.9 62.8 L1555.3 63.6 L1553.7 62.4 L1553.3 64.4 L1552.5 62.4 L1550.9 61.6 L1548.9 62.8 L1546.9 62.4 L1544.9 63.6 L1543.3 64.6Z M1563.3 57.8 L1565.7 57.2 L1568.1 57.6 L1570.5 58.0 L1572.1 59.6 L1572.9 61.6 L1572.5 63.6 L1570.5 64.0 L1569.3 62.0 L1567.3 60.8 L1565.3 60.0 L1563.7 58.8Z M1562.5 61.6 L1564.1 61.6 L1565.7 63.2 L1565.3 65.2 L1563.7 66.0 L1562.5 64.4 L1562.1 62.8Z M1563.3 82.0 L1564.9 80.0 L1567.3 79.2 L1569.7 79.6 L1571.3 78.0 L1573.7 77.2 L1576.1 76.0 L1578.1 74.6 L1577.3 75.6 L1575.3 77.2 L1572.9 78.4 L1570.9 80.0 L1568.1 80.4 L1565.7 81.2 L1564.1 82.8Z M1555.7 90.0 L1556.9 88.0 L1558.5 86.6 L1559.5 87.6 L1557.7 88.8 L1556.5 90.4Z M1552.1 74.6 L1553.7 76.0 L1555.3 77.2 L1556.3 76.4 L1555.3 76.8 L1553.7 75.6Z M1998.4 705.8 L2001.3 704.3 L2005.2 706.2 L2009.1 708.7 L2012.5 710.1 L2013.4 713.5 L2012.0 717.4 L2009.1 716.5 L2005.2 714.0 L2001.3 711.6 L1999.3 709.2Z M2012.5 716.9 L2016.8 718.4 L2020.7 719.9 L2024.1 721.8 L2023.2 723.3 L2018.8 720.8 L2013.9 718.9Z M2053.3 718.4 L2055.7 717.9 L2059.6 719.9 L2062.5 720.8 L2060.6 722.8 L2056.7 722.3 L2053.8 720.8Z M1212.1 798.5 L1215.9 792.0 L1223.5 795.8 L1220.3 803.9 L1215.9 801.2Z M1151.8 546.8 L1153.9 545.3 L1156.4 546.8 L1157.0 550.4 L1154.9 549.4 L1153.4 547.9Z M1196.6 590.0 L1198.6 589.3 L1200.7 590.0 L1199.7 591.6 L1197.6 591.4Z" fill="#c0c0c0" stroke="#000" stroke-width="1.6" stroke-linejoin="round"/>
<path d="M1280.3 84.7 L1284.4 85.2 L1286.9 88.8 L1287.4 93.4 L1290.0 97.4 L1288.5 101.0 L1285.4 102.0 L1283.4 99.5 L1283.9 95.4 L1282.4 91.8 L1283.4 88.8Z M1468.7 1.3 L1471.7 8.7 L1476.1 14.8 L1481.3 17.4 L1484.8 18.7 L1486.5 24.4 L1488.3 29.6 L1491.3 33.1 L1493.9 35.3 L1494.4 33.1 L1491.8 29.6 L1489.1 25.3 L1488.3 19.2 L1485.7 16.1 L1481.3 15.2 L1477.8 13.1 L1474.3 7.0 L1471.7 1.3Z M1497.8 85.8 L1500.0 83.8 L1502.6 84.3 L1503.5 86.6 L1501.8 89.3 L1499.2 88.8Z M1516.3 70.5 L1518.3 68.4 L1520.9 69.2 L1520.9 72.3 L1518.7 74.0 L1516.6 73.2Z M1501.8 71.4 L1503.5 69.2 L1505.3 70.5 L1504.4 73.6 L1502.2 74.0Z M1225.6 289.8 L1226.6 286.0 L1227.5 282.1 L1230.5 282.6 L1231.9 286.0 L1235.3 286.9 L1238.7 288.4 L1237.3 291.3 L1234.8 290.8 L1231.4 287.9 L1228.5 288.4Z M1294.6 326.8 L1298.5 322.4 L1300.9 329.7 L1298.0 329.2Z M1260.6 359.3 L1263.5 357.4 L1266.9 358.4 L1265.9 361.3 L1262.5 361.8Z M1205.7 255.3 L1209.1 253.4 L1212.2 254.4 L1210.0 256.8 L1207.1 257.3Z M2012.7 709.2 L2014.4 707.2 L2016.8 708.2 L2017.0 710.6 L2014.9 712.1 L2013.0 711.3Z M1983.6 822.4 L1985.3 820.7 L1987.1 822.1 L1986.5 824.3 L1984.3 824.6Z M2062.5 690.7 L2064.0 689.2 L2065.7 690.2 L2065.7 692.6 L2063.5 692.6 L2063.3 698.5 L2064.7 696.5 L2065.7 697.0 L2065.7 699.9 L2064.0 700.4Z" fill="#fff" stroke="#000" stroke-width="1.6" stroke-linejoin="round"/>
<circle cx="1416.9" cy="108.0" r="1.1" fill="#000"/>
<circle cx="1418.2" cy="110.8" r="1.1" fill="#000"/>
<circle cx="1421.6" cy="115.1" r="1.1" fill="#000"/>
<circle cx="1456.0" cy="110.6" r="1.1" fill="#000"/>
<circle cx="1472.2" cy="110.8" r="1.1" fill="#000"/>
<circle cx="1473.0" cy="110.9" r="1.1" fill="#000"/>
<circle cx="1493.9" cy="38.3" r="1.1" fill="#000"/>
<circle cx="1538.9" cy="47.2" r="1.1" fill="#000"/>
<circle cx="1539.7" cy="47.6" r="1.1" fill="#000"/>
<circle cx="1542.7" cy="39.2" r="1.1" fill="#000"/>
<circle cx="1545.5" cy="50.4" r="1.1" fill="#000"/>
<circle cx="1539.9" cy="66.6" r="1.1" fill="#000"/>
<circle cx="1541.5" cy="69.6" r="1.1" fill="#000"/>
<circle cx="1545.7" cy="70.8" r="1.1" fill="#000"/>
<circle cx="1547.7" cy="66.4" r="1.1" fill="#000"/>
<circle cx="1557.3" cy="71.8" r="1.1" fill="#000"/>
<circle cx="1558.1" cy="72.0" r="1.1" fill="#000"/>
<circle cx="1548.5" cy="76.6" r="1.1" fill="#000"/>
<circle cx="1541.7" cy="80.0" r="1.1" fill="#000"/>
<circle cx="1537.7" cy="80.8" r="1.1" fill="#000"/>
<circle cx="1561.3" cy="53.2" r="1.1" fill="#000"/>
<circle cx="1573.5" cy="66.4" r="1.1" fill="#000"/>
<circle cx="1573.3" cy="65.6" r="1.1" fill="#000"/>
<circle cx="1601.7" cy="34.0" r="1.1" fill="#000"/>
<circle cx="1601.3" cy="43.6" r="1.1" fill="#000"/>
<circle cx="1600.9" cy="42.8" r="1.1" fill="#000"/>
<circle cx="1586.1" cy="36.6" r="1.1" fill="#000"/>
<circle cx="1615.9" cy="39.4" r="1.1" fill="#000"/>
<circle cx="1204.1" cy="165.5" r="1.1" fill="#000"/>
<circle cx="1305.2" cy="193.4" r="1.1" fill="#000"/>
<circle cx="1303.7" cy="208.7" r="1.1" fill="#000"/>
<circle cx="1302.7" cy="210.2" r="1.1" fill="#000"/>
<circle cx="1977.5" cy="558.7" r="1.1" fill="#000"/>
<circle cx="1978.0" cy="559.1" r="1.1" fill="#000"/>
<circle cx="1980.2" cy="563.1" r="1.1" fill="#000"/>
<circle cx="1993.7" cy="625.8" r="1.1" fill="#000"/>
<circle cx="2034.9" cy="665.8" r="1.1" fill="#000"/>
<circle cx="2036.3" cy="666.0" r="1.1" fill="#000"/>
<circle cx="2037.8" cy="666.4" r="1.1" fill="#000"/>
<circle cx="2028.6" cy="690.4" r="1.1" fill="#000"/>
<circle cx="1995.5" cy="703.3" r="1.1" fill="#000"/>
<circle cx="1996.0" cy="703.7" r="1.1" fill="#000"/>
<circle cx="2028.5" cy="690.2" r="1.1" fill="#000"/>
<circle cx="2022.7" cy="795.4" r="1.1" fill="#000"/>
<circle cx="1985.7" cy="817.2" r="1.1" fill="#000"/>
<circle cx="2012.0" cy="818.5" r="1.1" fill="#000"/>
<circle cx="2018.8" cy="822.9" r="1.1" fill="#000"/>
<circle cx="2019.3" cy="824.3" r="1.1" fill="#000"/>
<circle cx="2019.8" cy="825.8" r="1.1" fill="#000"/>
<circle cx="2021.2" cy="828.7" r="1.1" fill="#000"/>
<circle cx="1978.9" cy="833.6" r="1.1" fill="#000"/>
<circle cx="1980.9" cy="830.2" r="1.1" fill="#000"/>
<circle cx="1981.4" cy="832.6" r="1.1" fill="#000"/>
<circle cx="1981.9" cy="835.0" r="1.1" fill="#000"/>
<circle cx="1977.0" cy="840.9" r="1.1" fill="#000"/>
<circle cx="1984.8" cy="841.8" r="1.1" fill="#000"/>
<circle cx="1986.2" cy="842.5" r="1.1" fill="#000"/>
<circle cx="1987.7" cy="843.3" r="1.1" fill="#000"/>
<circle cx="1148.7" cy="545.0" r="1.1" fill="#000"/>
<circle cx="1195.5" cy="586.8" r="1.1" fill="#000"/>
<circle cx="1215.4" cy="723.6" r="1.1" fill="#000"/>
<circle cx="1214.8" cy="748.5" r="1.1" fill="#000"/>
<circle cx="1211.6" cy="791.5" r="1.1" fill="#000"/>
<circle cx="1215.4" cy="808.3" r="1.1" fill="#000"/>
<circle cx="1217.0" cy="818.1" r="1.1" fill="#000"/>
<circle cx="1213.7" cy="841.4" r="1.1" fill="#000"/>
<circle cx="1216.4" cy="372.3" r="1.1" fill="#000"/>
<circle cx="1297.5" cy="338.9" r="1.1" fill="#000"/>
<circle cx="1245.0" cy="366.6" r="1.1" fill="#000"/>
<circle cx="2018.5" cy="53.0" r="1.1" fill="#000"/>
<circle cx="2019.5" cy="52.5" r="1.1" fill="#000"/>
<circle cx="2020.2" cy="52.0" r="1.1" fill="#000"/>
<circle cx="1430.5" cy="470.4" r="1.1" fill="#000"/>
<circle cx="1432.9" cy="472.8" r="1.1" fill="#000"/>
<circle cx="1432.7" cy="480.1" r="1.1" fill="#000"/>
<circle cx="1372.4" cy="509.9" r="1.1" fill="#000"/>
<circle cx="1387.4" cy="509.2" r="1.1" fill="#000"/>
<circle cx="1390.9" cy="539.8" r="1.1" fill="#000"/>
<circle cx="1350.1" cy="559.7" r="1.1" fill="#000"/>
<circle cx="1461.8" cy="492.7" r="1.1" fill="#000"/>
<circle cx="1752.3" cy="181.0" r="1.1" fill="#000"/>
<path d="M1971.9 84.8 L1966.9 49.9 L1994.4 107.2 M1880.0 115.5 L1912.0 103.1 L1967.8 121.4 L1967.4 127.4 L1988.4 158.5 L1997.6 156.4 L1994.8 122.3 L1995.7 117.8 M1964.6 103.1 L1955.0 119.6 L1944.0 131.5 L1913.4 169.0 L1911.1 157.6 L1880.0 190.0 M1913.4 169.0 L1939.5 174.3 L1965.1 187.3 L1973.3 194.6 L1973.8 200.0 L1974.2 209.3 L1973.3 223.9 L1974.7 239.5 M1907.4 178.1 L1909.3 166.2 L1897.4 172.2 L1898.3 178.1 M1898.8 184.5 L1907.4 178.3 L1942.2 179.2 L1963.7 176.3 L1959.6 200.0 L1958.2 202.0 L1934.0 212.0 L1885.9 232.6 L1884.6 202.9 L1894.6 191.9 M1966.0 103.3 L1987.8 102.7 M1969.2 101.3 L1987.9 120.7 L1993.0 128.0 L2001.7 129.8 L2007.9 145.2 M1981.1 119.4 L1993.4 114.6 M2008.1 118.7 L2016.8 125.7 M2002.6 122.3 L2006.7 132.4 L2007.6 144.3 L2001.7 150.2 L2008.5 153.9 L2009.9 147.9 L2014.5 149.8 L2031.4 145.2 M2008.1 146.1 L2011.7 163.5 L2017.2 183.6 L2020.0 188.2 L2031.9 206.5 L2030.0 197.4 L2043.8 209.3 M2006.2 146.1 L1986.6 192.3 L1982.6 175.2 L1959.6 170.4 L1953.2 160.8 M2009.9 147.9 L2035.1 164.9 L2050.6 189.6 M2013.1 151.2 L2032.3 171.9 M2041.0 148.9 L2067.0 171.7 M2043.8 148.4 L2067.0 168.1 M1967.8 121.6 L1944.0 128.6 L1947.7 149.8 M1939.9 140.2 L1947.2 151.2 M1962.8 122.8 L1949.1 150.2 M1943.1 161.7 L1923.9 183.2 L1921.6 195.5 L1933.5 211.6 L1906.5 204.2 L1884.6 194.6 L1880.0 191.9 M1950.4 162.1 L1950.9 169.2 L1906.5 200.0 L1898.3 206.5 L1880.0 219.8 L1865.7 229.3 L1871.1 232.3 L1880.0 234.9 M1993.4 120.5 L1985.2 124.3 L1952.3 175.2 L1949.5 177.2 M1978.3 160.3 L1986.1 172.4 L2001.7 182.0 L2019.5 188.4 M1969.2 123.2 L1977.0 139.7 L2017.2 185.0 M2007.2 185.6 L1995.3 200.0 L1987.9 211.6 L1958.7 238.1 L1913.8 261.9 L1896.0 266.9 L1883.2 271.5 L1880.0 267.4 L1878.7 264.5 L1896.0 267.5 M1845.7 258.7 L1852.5 236.2 L1884.3 210.8 L1885.5 207.4 L1909.3 199.7 L1944.0 207.4 L1995.7 218.9 L1990.7 234.0 M1888.7 255.9 L1896.0 266.9 L1880.0 263.7 M1880.0 234.9 L1900.6 238.1 L1921.6 249.1 L1907.4 266.9 L1880.0 295.7 L1861.8 314.9 M1699.5 134.3 L1722.5 137.8 L1767.5 132.9 L1786.5 138.1 L1781.6 103.6 L1825.1 99.0 L1813.4 120.2 L1803.6 133.7 M1847.6 70.3 L1837.4 99.8 L1839.8 102.6 L1846.7 101.1 L1839.3 94.8 M1839.8 102.6 L1865.2 121.1 L1880.0 115.5 M1839.8 102.6 L1836.9 104.0 L1811.5 108.0 L1812.9 118.2 L1811.5 123.1 M1801.2 194.3 L1752.8 181.3 L1753.6 191.5 L1804.6 199.7 L1807.5 211.0 L1810.0 224.4 L1772.8 235.0 M1835.9 175.9 L1821.2 229.3 M1826.1 230.3 L1837.4 211.0 L1856.1 180.0 L1874.0 189.6 M1877.7 194.0 L1900.0 201.8 M1774.3 237.6 L1797.8 234.2 L1774.8 239.6 M1668.5 213.2 L1700.0 220.0 L1762.6 234.0 M1595.9 235.3 L1639.2 212.6 L1700.0 225.9 L1715.6 229.3 L1766.5 256.0 L1771.9 246.4 M1580.0 340.3 L1603.7 315.5 L1630.5 289.1 L1648.1 267.3 L1662.6 260.0 L1685.0 247.1 L1700.0 242.5 L1758.5 221.0 L1757.7 235.2 L1752.3 261.4 L1767.0 270.6 L1777.2 264.7 M1767.0 270.6 L1746.0 285.1 L1724.4 299.2 L1700.0 304.1 M1700.0 309.5 L1742.0 283.1 L1776.3 279.7 L1793.9 328.3 L1820.7 325.3 L1844.7 262.6 L1845.7 258.7 L1834.1 242.2 L1827.1 239.1 M1767.5 283.3 L1747.9 296.3 L1719.1 321.2 L1700.0 339.3 M1700.0 311.2 L1743.0 310.5 L1766.5 297.3 L1811.9 371.0 L1820.8 385.0 L1842.1 431.1 L1845.1 437.3 L1871.7 420.5 L1877.0 404.5 L1888.9 399.2 L1901.9 414.3 M1746.0 309.5 L1719.1 321.2 L1712.7 346.7 L1706.8 371.0 L1704.3 377.9 M1684.7 390.9 L1695.4 374.9 L1700.0 370.6 L1725.4 353.8 L1765.5 347.1 M1845.7 258.7 L1846.7 262.6 L1862.8 255.2 L1844.7 277.2 L1831.0 301.7 M1888.7 255.7 L1895.5 267.3 M1875.0 371.0 L1890.7 365.0 M1608.8 217.8 L1612.9 243.0 L1622.7 260.0 L1628.4 268.8 L1630.8 287.1 L1634.2 304.4 L1671.1 288.1 L1701.9 285.4 M1573.8 327.0 L1582.6 321.0 L1591.2 271.9 L1609.8 282.7 L1631.5 294.5 L1660.3 312.2 L1681.6 316.4 L1693.5 336.2 L1660.6 360.2 L1662.0 370.0 L1662.5 371.4 L1664.3 370.0 L1720.0 321.0 M1602.4 275.9 L1681.3 326.7 L1683.6 321.0 L1687.7 313.5 L1700.6 311.5 L1720.0 311.6 M1678.2 323.0 L1720.0 296.6 M1658.6 274.2 L1639.6 287.1 L1630.8 291.8 L1607.8 296.6 L1596.3 307.4 L1582.7 320.3 L1584.3 306.4 M1720.0 300.3 L1678.6 308.6 L1659.4 282.2 L1632.2 289.8 L1620.6 300.0 L1596.3 305.4 L1580.0 309.1 L1580.9 309.1 M1585.8 303.0 L1630.5 315.2 L1663.2 340.6 L1648.7 323.3 L1627.4 298.9 L1609.8 282.4 M1641.3 332.8 L1681.6 350.4 L1697.9 370.0 L1704.3 377.9 M1651.0 308.2 L1649.1 325.0 L1645.8 357.5 L1593.5 335.5 L1580.0 329.8 L1574.5 328.1 L1572.3 326.1 L1560.3 321.5 L1531.5 334.2 M1626.7 375.2 L1627.8 370.0 L1630.1 334.5 L1631.8 319.9 L1606.1 323.3 L1580.0 350.4 L1562.0 367.2 L1522.3 362.1 L1510.0 360.3 M1718.5 322.7 L1708.0 370.0 M1701.9 370.0 L1720.0 359.2 M1480.0 340.6 L1509.1 333.2 L1513.5 324.0 L1521.0 332.9 M1530.5 331.5 L1541.3 322.0 L1553.5 325.6 L1555.3 328.1 L1559.4 340.1 L1574.8 344.7 L1620.0 299.7 M1532.2 335.6 L1571.4 325.7 M1520.6 338.6 L1480.0 352.5 M1520.0 340.0 L1502.4 354.2 L1507.9 353.4 M1529.8 342.7 L1523.3 357.6 L1520.0 365.0 L1516.6 368.5 M1480.0 350.8 L1490.2 354.5 M1489.5 358.6 L1480.0 360.6 M1501.0 356.9 L1509.8 360.3 L1515.2 358.9 L1526.1 354.2 L1552.8 350.1 L1567.4 337.3 L1574.8 329.1 L1605.3 313.5 L1620.0 306.1 M1480.0 375.7 L1510.1 361.0 L1520.0 359.6 L1537.6 358.8 L1558.6 351.3 L1565.7 348.0 L1567.4 342.0 L1570.4 332.5 L1574.5 327.1 L1580.6 309.1 M1480.0 376.9 L1520.0 363.0 L1562.0 368.5 L1606.1 323.4 L1620.0 321.5 M1480.7 376.5 L1481.7 377.9 L1485.4 410.0 M1492.2 410.0 L1546.7 356.2 L1574.5 328.1 L1598.5 305.4 L1604.0 300.0 M1494.6 410.0 L1502.7 405.7 L1551.1 360.3 L1561.3 346.7 L1574.5 328.4 M1480.0 407.7 L1491.9 404.3 L1497.3 406.0 L1539.6 362.3 M1488.1 386.4 L1514.5 372.1 M1488.5 386.0 L1514.2 372.6 M1332.2 434.7 L1337.5 412.4 L1378.5 385.9 L1405.3 372.3 M1397.0 359.1 L1405.3 363.7 M1391.9 363.2 L1390.9 399.0 L1423.3 396.2 L1481.4 375.6 M1415.0 362.7 L1448.5 329.8 L1460.8 327.0 L1479.2 331.5 L1474.7 347.8 L1467.5 358.9 L1438.7 380.5 L1446.9 379.2 L1468.6 362.7 L1488.6 358.1 M1415.6 365.3 L1449.5 347.8 L1480.0 340.6 M1416.1 365.8 L1422.2 368.2 L1437.2 364.5 M1451.6 401.8 L1443.3 410.6 L1435.3 391.0 L1428.9 366.3 L1425.6 346.6 L1458.8 365.3 L1460.8 381.7 L1465.2 399.4 L1482.4 408.5 L1492.7 404.6 L1499.9 405.6 M1449.0 359.6 L1482.4 352.7 M1481.4 375.6 L1483.7 392.0 L1489.7 439.4 L1495.8 474.4 L1499.9 493.9 L1502.3 501.8 M1492.2 410.0 L1482.4 419.0 L1449.5 429.6 L1404.2 443.0 L1358.4 468.2 L1333.2 474.1 L1327.3 482.6 M1499.9 406.2 L1465.0 425.0 L1434.1 446.1 L1407.8 473.3 L1431.0 493.9 M1328.6 484.1 L1401.7 466.3 L1474.2 468.2 L1499.9 472.5 L1543.0 479.5 L1577.2 493.6 L1622.3 473.9 L1639.2 468.6 L1664.7 419.8 L1678.8 398.0 L1695.6 375.2 L1700.0 372.2 M1319.8 491.3 L1314.2 500.0 M1499.9 461.2 L1492.2 464.1 L1490.2 486.7 L1482.4 500.0 M1318.8 491.1 L1311.1 504.5 M1409.4 524.0 L1414.0 533.0 L1368.2 544.6 L1347.6 545.4 M1336.8 540.0 L1331.2 533.3 M1345.6 548.7 L1408.9 621.3 L1407.3 579.8 L1433.0 562.6 L1478.3 508.1 L1489.7 486.5 L1491.9 470.0 M1493.6 464.3 L1551.7 440.4 L1573.4 435.5 L1676.1 402.9 L1672.8 395.9 L1659.3 383.4 L1681.0 395.3 M1657.1 479.5 L1681.0 472.4 L1700.0 467.6 L1719.1 463.1 L1748.0 458.3 L1762.8 462.5 L1782.4 454.2 L1732.1 547.0 L1730.5 550.9 M1648.9 489.8 L1644.0 495.8 M1658.2 483.8 L1660.3 483.6 L1670.7 485.8 L1681.8 504.5 L1696.2 516.4 L1700.0 518.1 L1716.7 522.8 L1742.1 517.2 L1783.6 526.4 L1748.6 529.6 M1691.8 401.8 L1700.0 409.4 L1720.2 423.4 L1748.6 454.2 L1793.6 491.5 M1688.6 403.5 L1691.8 426.8 L1725.0 412.2 L1736.8 410.4 L1740.6 405.7 M1803.1 529.3 L1781.8 525.8 L1733.3 496.2 L1747.5 493.3 L1809.0 469.6 L1842.1 477.5 L1887.3 441.8 L1875.9 439.4 L1880.4 434.3 L1864.0 434.1 L1812.0 407.5 L1778.2 411.6 M1783.6 526.4 L1803.1 529.3 L1832.7 457.2 L1858.7 451.2 L1845.7 458.1 L1826.2 451.8 L1843.1 431.1 L1810.8 440.4 M1825.0 433.3 L1837.4 447.7 M1843.3 430.5 L1870.5 408.6 L1881.8 416.3 L1897.2 436.7 L1910.8 422.8 L1920.0 420.5 L1948.0 411.7 M1800.7 421.7 L1794.2 454.2 L1795.6 462.5 L1808.4 433.5 L1825.8 395.6 L1826.7 393.8 L1840.4 407.7 L1862.8 382.6 L1890.7 364.9 L1839.8 387.3 M1690.7 570.5 L1669.4 565.6 L1685.9 560.2 L1720.2 555.4 L1765.8 537.4 L1786.5 542.1 M1672.8 626.3 L1681.7 643.5 L1690.7 650.4 L1683.8 629.8 L1668.7 629.4 L1740.1 657.2 L1768.2 628.8 M1406.4 843.9 L1421.3 834.0 L1407.8 822.2 L1401.0 799.8 L1419.3 783.6 L1453.2 768.4 L1463.3 751.1 L1466.7 733.7 L1479.6 738.9 L1475.5 731.8 L1478.6 728.7 L1529.7 749.0 L1524.9 737.5 L1517.5 705.7 L1522.9 706.4 L1549.3 701.0 L1636.0 691.7 L1653.0 698.2 L1619.1 709.1 L1634.0 712.5 L1642.8 706.0 M1620.4 745.9 L1642.1 751.8 L1642.7 751.8 L1703.7 740.9 L1725.3 740.5 L1753.1 737.3 L1745.4 727.1 L1704.3 743.6 L1709.8 686.3 L1693.5 690.1 L1679.3 681.3 M1496.5 832.4 L1538.5 812.3 L1596.7 777.5 L1627.2 780.9 L1650.3 797.8 L1650.2 797.8 L1701.0 804.6 L1724.7 829.4 L1683.3 843.9 M1753.5 734.8 L1756.1 723.3 M1753.1 737.3 L1762.6 747.7 L1804.6 718.6 L1798.5 752.4 L1787.7 821.3 M1799.8 751.4 L1775.5 771.1 L1759.2 843.9 M1726.7 774.4 L1749.7 763.3 L1763.5 779.3 L1771.1 843.9 M1740.9 798.5 L1747.7 806.4 L1758.1 839.1 L1772.1 843.9 M1741.6 799.8 L1756.5 843.9 M1733.5 798.2 L1698.2 799.6 M1683.3 807.3 L1698.2 799.2 L1728.1 789.7 L1696.9 803.2 M1830.3 739.6 L1845.2 740.9 L1852.0 768.0 L1849.3 786.0 L1859.2 768.7 L1861.5 794.4 L1889.3 814.7 L1912.3 798.5 M1809.3 826.9 L1826.3 823.6 L1831.7 835.7 L1775.5 843.9 L1829.7 826.3 L1855.4 835.1 L1903.5 843.9" fill="none" stroke="#ff0000" stroke-width="1.5" stroke-linejoin="round" stroke-linecap="butt"/>
<circle cx="1973.3" cy="90.5" r="6.4" fill="#ff0000"/>
<circle cx="1964.6" cy="95.8" r="6.4" fill="#ff0000"/>
<circle cx="1996.6" cy="113.9" r="6.4" fill="#ff0000"/>
<circle cx="2011.3" cy="112.3" r="6.4" fill="#ff0000"/>
<circle cx="2001.7" cy="117.8" r="6.4" fill="#ff0000"/>
<circle cx="2037.4" cy="144.3" r="6.4" fill="#ff0000"/>
<circle cx="1947.7" cy="156.2" r="6.4" fill="#ff0000"/>
<circle cx="1898.8" cy="184.5" r="6.4" fill="#ff0000"/>
<circle cx="1885.0" cy="249.7" r="6.4" fill="#ff0000"/>
<circle cx="1849.1" cy="64.1" r="6.4" fill="#ff0000"/>
<circle cx="1833.0" cy="88.6" r="6.4" fill="#ff0000"/>
<circle cx="1699.5" cy="134.3" r="6.4" fill="#ff0000"/>
<circle cx="1837.4" cy="169.8" r="6.4" fill="#ff0000"/>
<circle cx="1877.7" cy="194.0" r="6.4" fill="#ff0000"/>
<circle cx="1768.0" cy="240.6" r="6.4" fill="#ff0000"/>
<circle cx="1822.7" cy="234.7" r="6.4" fill="#ff0000"/>
<circle cx="1608.0" cy="211.3" r="6.4" fill="#ff0000"/>
<circle cx="1662.3" cy="211.8" r="6.4" fill="#ff0000"/>
<circle cx="1579.2" cy="301.5" r="6.4" fill="#ff0000"/>
<circle cx="1634.8" cy="330.0" r="6.4" fill="#ff0000"/>
<circle cx="1526.0" cy="336.7" r="6.4" fill="#ff0000"/>
<circle cx="1495.2" cy="359.3" r="6.4" fill="#ff0000"/>
<circle cx="1500.5" cy="381.3" r="6.4" fill="#ff0000"/>
<circle cx="1391.9" cy="353.4" r="6.4" fill="#ff0000"/>
<circle cx="1390.9" cy="356.5" r="6.4" fill="#ff0000"/>
<circle cx="1409.9" cy="367.5" r="6.4" fill="#ff0000"/>
<circle cx="1442.8" cy="361.7" r="6.4" fill="#ff0000"/>
<circle cx="1455.0" cy="396.7" r="6.4" fill="#ff0000"/>
<circle cx="1330.4" cy="441.2" r="6.4" fill="#ff0000"/>
<circle cx="1322.4" cy="485.7" r="6.4" fill="#ff0000"/>
<circle cx="1307.7" cy="510.7" r="6.4" fill="#ff0000"/>
<circle cx="1434.9" cy="500.4" r="6.4" fill="#ff0000"/>
<circle cx="1406.5" cy="517.5" r="6.4" fill="#ff0000"/>
<circle cx="1341.1" cy="544.1" r="6.4" fill="#ff0000"/>
<circle cx="1687.5" cy="396.9" r="6.4" fill="#ff0000"/>
<circle cx="1652.0" cy="484.9" r="6.4" fill="#ff0000"/>
<circle cx="1639.7" cy="500.1" r="6.4" fill="#ff0000"/>
<circle cx="1503.6" cy="508.8" r="6.4" fill="#ff0000"/>
<circle cx="1771.7" cy="412.4" r="6.4" fill="#ff0000"/>
<circle cx="1801.7" cy="414.8" r="6.4" fill="#ff0000"/>
<circle cx="1804.3" cy="440.8" r="6.4" fill="#ff0000"/>
<circle cx="1697.1" cy="571.9" r="6.4" fill="#ff0000"/>
<circle cx="1670.5" cy="619.9" r="6.4" fill="#ff0000"/>
<circle cx="1673.5" cy="677.8" r="6.4" fill="#ff0000"/>
<circle cx="1823.8" cy="738.2" r="6.4" fill="#ff0000"/>
<circle cx="1614.1" cy="744.0" r="6.4" fill="#ff0000"/>
<circle cx="1490.4" cy="835.5" r="6.4" fill="#ff0000"/>
<circle cx="1721.0" cy="777.5" r="6.4" fill="#ff0000"/>
<circle cx="1738.2" cy="793.1" r="6.4" fill="#ff0000"/>
<circle cx="1677.7" cy="810.4" r="6.4" fill="#ff0000"/>
</g>
<rect x="99.0" y="0.6" width="948.6" height="844.2" fill="none" stroke="#000" stroke-width="2"/>
<path d="M99.0 79.5h8.5 M1047.6 79.5h-8.5 M99.0 237.0h8.5 M1047.6 237.0h-8.5 M99.0 391.0h8.5 M1047.6 391.0h-8.5 M99.0 543.3h8.5 M1047.6 543.3h-8.5 M99.0 695.0h8.5 M1047.6 695.0h-8.5 M317.9 0.6v8.5 M317.9 844.8v-8.5 M536.6 0.6v8.5 M536.6 844.8v-8.5 M755.6 0.6v8.5 M755.6 844.8v-8.5 M974.6 0.6v8.5 M974.6 844.8v-8.5" stroke="#000" stroke-width="2" fill="none"/>
<rect x="1116.1" y="0.6" width="949.3" height="844.2" fill="none" stroke="#000" stroke-width="2"/>
<path d="M1116.1 79.7h8.5 M2065.4 79.7h-8.5 M1116.1 237.2h8.5 M2065.4 237.2h-8.5 M1116.1 391.2h8.5 M2065.4 391.2h-8.5 M1116.1 543.5h8.5 M2065.4 543.5h-8.5 M1116.1 695.2h8.5 M2065.4 695.2h-8.5 M1335.6 0.6v8.5 M1335.6 844.8v-8.5 M1554.3 0.6v8.5 M1554.3 844.8v-8.5 M1773.3 0.6v8.5 M1773.3 844.8v-8.5 M1992.3 0.6v8.5 M1992.3 844.8v-8.5" stroke="#000" stroke-width="2" fill="none"/>
<text x="-0.05" y="95.70" font-size="35.3">22</text>
<text x="39.22" y="78.70" font-size="26.4">o</text>
<text x="63.60" y="95.70" font-size="35.3">N</text>
<text x="-0.05" y="253.20" font-size="35.3">20</text>
<text x="39.22" y="236.20" font-size="26.4">o</text>
<text x="63.60" y="253.20" font-size="35.3">N</text>
<text x="-0.80" y="407.20" font-size="35.3">18</text>
<text x="38.47" y="390.20" font-size="26.4">o</text>
<text x="63.60" y="407.20" font-size="35.3">N</text>
<text x="-0.80" y="559.50" font-size="35.3">16</text>
<text x="38.47" y="542.50" font-size="26.4">o</text>
<text x="63.60" y="559.50" font-size="35.3">N</text>
<text x="-0.80" y="711.20" font-size="35.3">14</text>
<text x="38.47" y="694.20" font-size="26.4">o</text>
<text x="63.60" y="711.20" font-size="35.3">N</text>
<text x="-0.80" y="861.20" font-size="35.3">12</text>
<text x="38.47" y="844.20" font-size="26.4">o</text>
<text x="63.60" y="861.20" font-size="35.3">N</text>
<text x="50.85" y="884.90" font-size="35.3">108</text>
<text x="109.75" y="867.90" font-size="26.4">o</text>
<text x="135.80" y="884.90" font-size="35.3">E</text>
<text x="269.75" y="884.90" font-size="35.3">111</text>
<text x="328.65" y="867.90" font-size="26.4">o</text>
<text x="354.70" y="884.90" font-size="35.3">E</text>
<text x="488.45" y="884.90" font-size="35.3">114</text>
<text x="547.35" y="867.90" font-size="26.4">o</text>
<text x="573.40" y="884.90" font-size="35.3">E</text>
<text x="707.45" y="884.90" font-size="35.3">117</text>
<text x="766.35" y="867.90" font-size="26.4">o</text>
<text x="792.40" y="884.90" font-size="35.3">E</text>
<text x="926.45" y="884.90" font-size="35.3">120</text>
<text x="985.35" y="867.90" font-size="26.4">o</text>
<text x="1011.40" y="884.90" font-size="35.3">E</text>
<text x="1067.35" y="884.90" font-size="35.3">108</text>
<text x="1126.25" y="867.90" font-size="26.4">o</text>
<text x="1149.00" y="884.90" font-size="35.3">E</text>
<text x="1283.05" y="884.90" font-size="35.3">111</text>
<text x="1341.95" y="867.90" font-size="26.4">o</text>
<text x="1368.00" y="884.90" font-size="35.3">E</text>
<text x="1501.75" y="884.90" font-size="35.3">114</text>
<text x="1560.65" y="867.90" font-size="26.4">o</text>
<text x="1586.70" y="884.90" font-size="35.3">E</text>
<text x="1720.75" y="884.90" font-size="35.3">117</text>
<text x="1779.65" y="867.90" font-size="26.4">o</text>
<text x="1805.70" y="884.90" font-size="35.3">E</text>
<text x="1939.75" y="884.90" font-size="35.3">120</text>
<text x="1998.65" y="867.90" font-size="26.4">o</text>
<text x="2024.70" y="884.90" font-size="35.3">E</text>
<text x="127.3" y="63.0" font-size="43.5">(</text>
<text x="141.9" y="61.5" font-size="45">a</text>
<text x="168.1" y="63.0" font-size="43.5">)</text>
<text x="1141.1" y="63.0" font-size="43.5">(</text>
<text x="1155.0" y="61.5" font-size="45">b</text>
<text x="1181.9" y="63.0" font-size="43.5">)</text>
<text x="379.8" y="1006.2" font-size="43.5">(</text>
<text x="395.3" y="1004.7" font-size="45">c</text>
<text x="417.7" y="1006.2" font-size="43.5">)</text>
<rect x="444.0" y="1400.7" width="63.2" height="257.0" fill="#0000ff" stroke="#000" stroke-width="1.2"/>
<rect x="547.0" y="1412.7" width="63.2" height="245.0" fill="#ff0000" stroke="#000" stroke-width="1.2"/>
<rect x="804.8" y="1234.8" width="63.2" height="422.9" fill="#0000ff" stroke="#000" stroke-width="1.2"/>
<rect x="907.8" y="1263.7" width="63.2" height="394.0" fill="#ff0000" stroke="#000" stroke-width="1.2"/>
<rect x="1165.4" y="1104.4" width="63.2" height="553.3" fill="#0000ff" stroke="#000" stroke-width="1.2"/>
<rect x="1268.4" y="1162.4" width="63.2" height="495.3" fill="#ff0000" stroke="#000" stroke-width="1.2"/>
<rect x="1526.0" y="980.8" width="63.2" height="676.9" fill="#0000ff" stroke="#000" stroke-width="1.2"/>
<rect x="1629.0" y="1060.4" width="63.2" height="597.3" fill="#ff0000" stroke="#000" stroke-width="1.2"/>
<rect x="347.1" y="934.4" width="1442.8" height="723.3" fill="none" stroke="#000" stroke-width="1.5"/>
<path d="M347.1 1537.0h14.5 M1789.9 1537.0h-14.5 M347.1 1416.4h14.5 M1789.9 1416.4h-14.5 M347.1 1295.7h14.5 M1789.9 1295.7h-14.5 M347.1 1175.0h14.5 M1789.9 1175.0h-14.5 M347.1 1054.4h14.5 M1789.9 1054.4h-14.5 M527.2 1657.7v-14.5 M527.2 934.4v14.5 M888.0 1657.7v-14.5 M888.0 934.4v14.5 M1248.6 1657.7v-14.5 M1248.6 934.4v14.5 M1609.2 1657.7v-14.5 M1609.2 934.4v14.5" stroke="#000" stroke-width="1.5" fill="none"/>
<text x="337.6" y="1670.3" font-size="35.3" text-anchor="end">0</text>
<text x="337.6" y="1549.6" font-size="35.3" text-anchor="end">20</text>
<text x="337.6" y="1429.0" font-size="35.3" text-anchor="end">40</text>
<text x="337.6" y="1308.3" font-size="35.3" text-anchor="end">60</text>
<text x="337.6" y="1187.6" font-size="35.3" text-anchor="end">80</text>
<text x="337.6" y="1067.0" font-size="35.3" text-anchor="end">100</text>
<text x="337.6" y="946.3" font-size="35.3" text-anchor="end">120</text>
<text x="527.2" y="1697.3" font-size="35.3" text-anchor="middle">1</text>
<text x="888.0" y="1697.3" font-size="35.3" text-anchor="middle">2</text>
<text x="1248.6" y="1697.3" font-size="35.3" text-anchor="middle">3</text>
<text x="1609.2" y="1697.3" font-size="35.3" text-anchor="middle">4</text>
<text x="893.8" y="1741" font-size="34.8">Forecast time (weeks)</text>
<text transform="translate(261,1448.2) rotate(-90)" font-size="35.5" textLength="303.5" lengthAdjust="spacing">Forecast error (km)</text>
<rect x="517.7" y="981.7" width="87.8" height="33.1" fill="#0000ff" stroke="#000" stroke-width="1.2"/>
<rect x="517.7" y="1025.9" width="87.8" height="33.2" fill="#ff0000" stroke="#000" stroke-width="1.2"/>
<text x="614.3" y="1010.3" font-size="34.8">Winter cyclonic</text>
<text x="613.7" y="1054.4" font-size="34.8">Summer cyclonic</text>
</svg></body></html>
